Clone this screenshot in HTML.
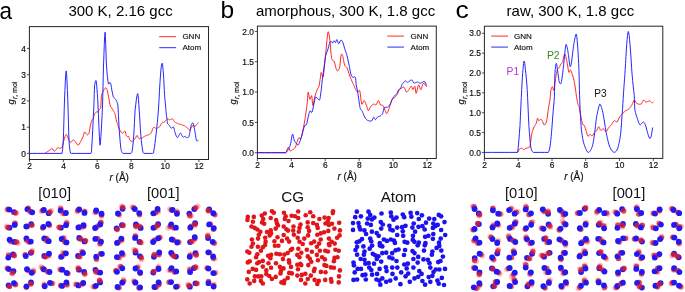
<!DOCTYPE html><html><head><meta charset="utf-8"><style>html,body{margin:0;padding:0;background:#fff;}body{width:685px;height:292px;overflow:hidden;}svg{display:block;will-change:transform;}</style></head><body><svg width="685" height="292" viewBox="0 0 685 292" font-family='"Liberation Sans", sans-serif'>
<rect width="685" height="292" fill="#fff"/>
<text x="0" y="0" font-size="24.5" transform="translate(-0.4,18.6) scale(0.92,1)">a</text>
<text x="220.4" y="18.4" font-size="24.5">b</text>
<text x="455.5" y="18.6" font-size="25" transform="translate(455.5,0) scale(1.06,0.97) translate(-455.5,0)">c</text>
<text x="68.4" y="15.7" font-size="15">300 K, 2.16 gcc</text>
<text x="255.9" y="15.7" font-size="15">amorphous, 300 K, 1.8 gcc</text>
<text x="506.6" y="15.7" font-size="15">raw, 300 K, 1.8 gcc</text>
<rect x="29.4" y="26.6" width="179.1" height="132.9" fill="none" stroke="#262626" stroke-width="1"/>
<line x1="29.4" y1="159.5" x2="29.4" y2="162.1" stroke="#262626" stroke-width="0.8"/>
<text x="29.6" y="168.9" font-size="8.4" text-anchor="middle" fill="#111" stroke="#111" stroke-width="0.18">2</text>
<line x1="63.3" y1="159.5" x2="63.3" y2="162.1" stroke="#262626" stroke-width="0.8"/>
<text x="63.5" y="168.9" font-size="8.4" text-anchor="middle" fill="#111" stroke="#111" stroke-width="0.18">4</text>
<line x1="97.2" y1="159.5" x2="97.2" y2="162.1" stroke="#262626" stroke-width="0.8"/>
<text x="97.4" y="168.9" font-size="8.4" text-anchor="middle" fill="#111" stroke="#111" stroke-width="0.18">6</text>
<line x1="131.1" y1="159.5" x2="131.1" y2="162.1" stroke="#262626" stroke-width="0.8"/>
<text x="131.3" y="168.9" font-size="8.4" text-anchor="middle" fill="#111" stroke="#111" stroke-width="0.18">8</text>
<line x1="165.0" y1="159.5" x2="165.0" y2="162.1" stroke="#262626" stroke-width="0.8"/>
<text x="165.2" y="168.9" font-size="8.4" text-anchor="middle" fill="#111" stroke="#111" stroke-width="0.18">10</text>
<line x1="198.9" y1="159.5" x2="198.9" y2="162.1" stroke="#262626" stroke-width="0.8"/>
<text x="199.1" y="168.9" font-size="8.4" text-anchor="middle" fill="#111" stroke="#111" stroke-width="0.18">12</text>
<line x1="26.8" y1="153.4" x2="29.4" y2="153.4" stroke="#262626" stroke-width="0.8"/>
<text x="26.0" y="156.5" font-size="8.4" text-anchor="end" fill="#111" stroke="#111" stroke-width="0.18">0</text>
<line x1="26.8" y1="127.2" x2="29.4" y2="127.2" stroke="#262626" stroke-width="0.8"/>
<text x="26.0" y="130.2" font-size="8.4" text-anchor="end" fill="#111" stroke="#111" stroke-width="0.18">1</text>
<line x1="26.8" y1="100.9" x2="29.4" y2="100.9" stroke="#262626" stroke-width="0.8"/>
<text x="26.0" y="104.0" font-size="8.4" text-anchor="end" fill="#111" stroke="#111" stroke-width="0.18">2</text>
<line x1="26.8" y1="74.7" x2="29.4" y2="74.7" stroke="#262626" stroke-width="0.8"/>
<text x="26.0" y="77.8" font-size="8.4" text-anchor="end" fill="#111" stroke="#111" stroke-width="0.18">3</text>
<line x1="26.8" y1="48.4" x2="29.4" y2="48.4" stroke="#262626" stroke-width="0.8"/>
<text x="26.0" y="51.5" font-size="8.4" text-anchor="end" fill="#111" stroke="#111" stroke-width="0.18">4</text>
<text x="119.2" y="181.0" font-size="10" text-anchor="middle" fill="#111" stroke="#111" stroke-width="0.18"><tspan font-style="italic">r</tspan> (Å)</text>
<text transform="translate(14.2,93) rotate(-90)" font-size="9.5" text-anchor="middle" fill="#111" stroke="#111" stroke-width="0.18"><tspan font-style="italic">g</tspan><tspan font-size="7" dy="3"><tspan font-style="italic">r</tspan>, mol</tspan></text>
<rect x="257.4" y="26.1" width="178.9" height="132.4" fill="none" stroke="#262626" stroke-width="1"/>
<line x1="257.4" y1="158.5" x2="257.4" y2="161.1" stroke="#262626" stroke-width="0.8"/>
<text x="257.6" y="168.0" font-size="8.4" text-anchor="middle" fill="#111" stroke="#111" stroke-width="0.18">2</text>
<line x1="291.3" y1="158.5" x2="291.3" y2="161.1" stroke="#262626" stroke-width="0.8"/>
<text x="291.5" y="168.0" font-size="8.4" text-anchor="middle" fill="#111" stroke="#111" stroke-width="0.18">4</text>
<line x1="325.2" y1="158.5" x2="325.2" y2="161.1" stroke="#262626" stroke-width="0.8"/>
<text x="325.4" y="168.0" font-size="8.4" text-anchor="middle" fill="#111" stroke="#111" stroke-width="0.18">6</text>
<line x1="359.2" y1="158.5" x2="359.2" y2="161.1" stroke="#262626" stroke-width="0.8"/>
<text x="359.4" y="168.0" font-size="8.4" text-anchor="middle" fill="#111" stroke="#111" stroke-width="0.18">8</text>
<line x1="393.1" y1="158.5" x2="393.1" y2="161.1" stroke="#262626" stroke-width="0.8"/>
<text x="393.3" y="168.0" font-size="8.4" text-anchor="middle" fill="#111" stroke="#111" stroke-width="0.18">10</text>
<line x1="427.0" y1="158.5" x2="427.0" y2="161.1" stroke="#262626" stroke-width="0.8"/>
<text x="427.2" y="168.0" font-size="8.4" text-anchor="middle" fill="#111" stroke="#111" stroke-width="0.18">12</text>
<line x1="254.8" y1="152.7" x2="257.4" y2="152.7" stroke="#262626" stroke-width="0.8"/>
<text x="254.0" y="155.8" font-size="8.4" text-anchor="end" fill="#111" stroke="#111" stroke-width="0.18">0.0</text>
<line x1="254.8" y1="122.4" x2="257.4" y2="122.4" stroke="#262626" stroke-width="0.8"/>
<text x="254.0" y="125.5" font-size="8.4" text-anchor="end" fill="#111" stroke="#111" stroke-width="0.18">0.5</text>
<line x1="254.8" y1="92.0" x2="257.4" y2="92.0" stroke="#262626" stroke-width="0.8"/>
<text x="254.0" y="95.1" font-size="8.4" text-anchor="end" fill="#111" stroke="#111" stroke-width="0.18">1.0</text>
<line x1="254.8" y1="61.7" x2="257.4" y2="61.7" stroke="#262626" stroke-width="0.8"/>
<text x="254.0" y="64.8" font-size="8.4" text-anchor="end" fill="#111" stroke="#111" stroke-width="0.18">1.5</text>
<line x1="254.8" y1="31.4" x2="257.4" y2="31.4" stroke="#262626" stroke-width="0.8"/>
<text x="254.0" y="34.5" font-size="8.4" text-anchor="end" fill="#111" stroke="#111" stroke-width="0.18">2.0</text>
<text x="347.2" y="180.4" font-size="10" text-anchor="middle" fill="#111" stroke="#111" stroke-width="0.18"><tspan font-style="italic">r</tspan> (Å)</text>
<text transform="translate(235.5,93) rotate(-90)" font-size="9.5" text-anchor="middle" fill="#111" stroke="#111" stroke-width="0.18"><tspan font-style="italic">g</tspan><tspan font-size="7" dy="3"><tspan font-style="italic">r</tspan>, mol</tspan></text>
<rect x="484.4" y="26.2" width="178.4" height="132.2" fill="none" stroke="#262626" stroke-width="1"/>
<line x1="484.4" y1="158.4" x2="484.4" y2="161.0" stroke="#262626" stroke-width="0.8"/>
<text x="484.6" y="168.0" font-size="8.4" text-anchor="middle" fill="#111" stroke="#111" stroke-width="0.18">2</text>
<line x1="518.2" y1="158.4" x2="518.2" y2="161.0" stroke="#262626" stroke-width="0.8"/>
<text x="518.4" y="168.0" font-size="8.4" text-anchor="middle" fill="#111" stroke="#111" stroke-width="0.18">4</text>
<line x1="552.0" y1="158.4" x2="552.0" y2="161.0" stroke="#262626" stroke-width="0.8"/>
<text x="552.2" y="168.0" font-size="8.4" text-anchor="middle" fill="#111" stroke="#111" stroke-width="0.18">6</text>
<line x1="585.7" y1="158.4" x2="585.7" y2="161.0" stroke="#262626" stroke-width="0.8"/>
<text x="585.9" y="168.0" font-size="8.4" text-anchor="middle" fill="#111" stroke="#111" stroke-width="0.18">8</text>
<line x1="619.5" y1="158.4" x2="619.5" y2="161.0" stroke="#262626" stroke-width="0.8"/>
<text x="619.7" y="168.0" font-size="8.4" text-anchor="middle" fill="#111" stroke="#111" stroke-width="0.18">10</text>
<line x1="653.3" y1="158.4" x2="653.3" y2="161.0" stroke="#262626" stroke-width="0.8"/>
<text x="653.5" y="168.0" font-size="8.4" text-anchor="middle" fill="#111" stroke="#111" stroke-width="0.18">12</text>
<line x1="481.8" y1="152.4" x2="484.4" y2="152.4" stroke="#262626" stroke-width="0.8"/>
<text x="481.0" y="155.5" font-size="8.4" text-anchor="end" fill="#111" stroke="#111" stroke-width="0.18">0.0</text>
<line x1="481.8" y1="132.6" x2="484.4" y2="132.6" stroke="#262626" stroke-width="0.8"/>
<text x="481.0" y="135.7" font-size="8.4" text-anchor="end" fill="#111" stroke="#111" stroke-width="0.18">0.5</text>
<line x1="481.8" y1="112.7" x2="484.4" y2="112.7" stroke="#262626" stroke-width="0.8"/>
<text x="481.0" y="115.8" font-size="8.4" text-anchor="end" fill="#111" stroke="#111" stroke-width="0.18">1.0</text>
<line x1="481.8" y1="92.8" x2="484.4" y2="92.8" stroke="#262626" stroke-width="0.8"/>
<text x="481.0" y="95.9" font-size="8.4" text-anchor="end" fill="#111" stroke="#111" stroke-width="0.18">1.5</text>
<line x1="481.8" y1="73.0" x2="484.4" y2="73.0" stroke="#262626" stroke-width="0.8"/>
<text x="481.0" y="76.1" font-size="8.4" text-anchor="end" fill="#111" stroke="#111" stroke-width="0.18">2.0</text>
<line x1="481.8" y1="53.2" x2="484.4" y2="53.2" stroke="#262626" stroke-width="0.8"/>
<text x="481.0" y="56.3" font-size="8.4" text-anchor="end" fill="#111" stroke="#111" stroke-width="0.18">2.5</text>
<line x1="481.8" y1="33.3" x2="484.4" y2="33.3" stroke="#262626" stroke-width="0.8"/>
<text x="481.0" y="36.4" font-size="8.4" text-anchor="end" fill="#111" stroke="#111" stroke-width="0.18">3.0</text>
<text x="573.9" y="180.4" font-size="10" text-anchor="middle" fill="#111" stroke="#111" stroke-width="0.18"><tspan font-style="italic">r</tspan> (Å)</text>
<text transform="translate(464.3,93) rotate(-90)" font-size="9.5" text-anchor="middle" fill="#111" stroke="#111" stroke-width="0.18"><tspan font-style="italic">g</tspan><tspan font-size="7" dy="3"><tspan font-style="italic">r</tspan>, mol</tspan></text>
<polyline points="44.60,153.40 45.50,152.99 46.40,152.41 47.30,151.77 48.20,151.20 48.80,150.72 49.40,150.26 50.00,149.84 50.60,149.50 51.08,149.18 51.55,148.89 52.02,148.73 52.50,148.80 52.92,149.27 53.35,150.03 53.78,150.78 54.20,151.20 54.62,151.18 55.05,150.90 55.48,150.47 55.90,150.00 56.38,149.41 56.85,148.68 57.32,148.01 57.80,147.60 58.27,147.60 58.75,147.88 59.23,148.19 59.70,148.30 60.30,148.26 60.90,148.16 61.50,147.83 62.10,147.10 62.52,145.80 62.95,144.05 63.38,142.15 63.80,140.40 64.40,138.63 65.00,136.76 65.60,135.21 66.20,134.40 66.67,134.61 67.15,135.56 67.62,136.83 68.10,138.00 68.65,139.18 69.20,140.53 69.75,141.68 70.30,142.30 71.08,142.06 71.85,141.22 72.62,140.32 73.40,139.90 74.00,140.15 74.60,140.77 75.20,141.55 75.80,142.30 76.40,143.14 77.00,144.12 77.60,144.92 78.20,145.20 78.80,144.79 79.40,143.88 80.00,142.74 80.60,141.60 81.20,140.48 81.80,139.27 82.40,138.03 83.00,136.80 83.42,135.44 83.85,133.97 84.28,132.71 84.70,132.00 85.12,132.07 85.55,132.71 85.98,133.51 86.40,134.10 86.73,134.44 87.05,134.71 87.38,134.85 87.70,134.80 88.05,134.60 88.40,134.26 88.75,133.67 89.10,132.70 89.45,131.14 89.80,129.12 90.15,127.01 90.50,125.20 90.83,123.75 91.15,122.46 91.47,121.35 91.80,120.40 92.15,119.73 92.50,119.31 92.85,118.90 93.20,118.30 93.55,117.37 93.90,116.24 94.25,115.12 94.60,114.20 94.95,113.52 95.30,112.99 95.65,112.56 96.00,112.20 96.50,111.97 97.00,111.86 97.50,111.74 98.00,111.50 98.35,111.07 98.70,110.53 99.05,109.95 99.40,109.40 99.75,109.12 100.10,109.01 100.45,108.59 100.80,107.40 100.95,104.95 101.10,101.63 101.25,98.21 101.40,95.50 101.93,93.75 102.45,92.53 102.97,91.59 103.50,90.70 104.00,89.76 104.50,88.91 105.00,88.26 105.50,87.90 105.85,87.81 106.20,87.96 106.55,88.42 106.90,89.30 107.33,90.71 107.75,92.56 108.17,94.66 108.60,96.80 109.02,99.15 109.45,101.74 109.88,104.17 110.30,106.00 110.65,106.97 111.00,107.36 111.35,107.56 111.70,108.00 112.22,108.79 112.75,109.71 113.28,110.65 113.80,111.50 114.12,112.13 114.45,112.64 114.77,113.25 115.10,114.20 115.45,115.71 115.80,117.61 116.15,119.52 116.50,121.10 116.85,122.16 117.20,122.93 117.55,123.63 117.90,124.50 118.23,125.70 118.55,127.08 118.88,128.36 119.20,129.30 119.40,129.70 119.60,129.73 119.80,129.70 120.00,129.90 120.35,130.47 120.70,131.24 121.05,132.02 121.40,132.60 121.73,132.97 122.05,133.22 122.38,133.33 122.70,133.30 123.05,133.03 123.40,132.57 123.75,132.07 124.10,131.70 124.38,131.41 124.65,131.14 124.92,131.06 125.20,131.30 125.45,132.07 125.70,133.24 125.95,134.47 126.20,135.40 126.53,135.97 126.85,136.34 127.17,136.57 127.50,136.70 127.75,136.59 128.00,136.27 128.25,136.01 128.50,136.10 128.78,136.71 129.05,137.65 129.32,138.67 129.60,139.50 129.95,140.11 130.30,140.64 130.65,141.04 131.00,141.30 131.50,141.38 132.00,141.30 132.50,141.12 133.00,140.90 133.35,140.64 133.70,140.31 134.05,139.92 134.40,139.50 134.75,139.02 135.10,138.49 135.45,137.93 135.80,137.40 136.12,136.80 136.45,136.14 136.78,135.62 137.10,135.40 137.35,135.63 137.60,136.19 137.85,136.85 138.10,137.40 138.38,137.84 138.65,138.27 138.92,138.61 139.20,138.80 139.55,138.76 139.90,138.54 140.25,138.28 140.60,138.10 140.93,138.07 141.25,138.11 141.57,138.15 141.90,138.10 142.25,137.94 142.60,137.72 142.95,137.46 143.30,137.20 143.73,136.93 144.15,136.64 144.57,136.35 145.00,136.10 145.43,135.90 145.85,135.72 146.27,135.57 146.70,135.40 147.22,135.22 147.75,135.05 148.28,134.87 148.80,134.70 149.15,134.56 149.50,134.44 149.85,134.27 150.20,134.00 150.55,133.60 150.90,133.12 151.25,132.55 151.60,131.90 151.93,131.09 152.25,130.16 152.57,129.24 152.90,128.50 153.25,127.94 153.60,127.50 153.95,127.21 154.30,127.10 154.70,127.30 155.10,127.76 155.50,128.23 155.90,128.50 156.35,128.49 156.80,128.32 157.25,128.07 157.70,127.80 158.22,127.56 158.75,127.29 159.28,126.96 159.80,126.50 160.20,125.83 160.60,125.01 161.00,124.18 161.40,123.50 161.72,123.00 162.05,122.59 162.38,122.29 162.70,122.10 163.05,122.12 163.40,122.32 163.75,122.51 164.10,122.50 164.45,122.22 164.80,121.76 165.15,121.25 165.50,120.80 165.82,120.40 166.15,120.01 166.48,119.67 166.80,119.40 167.15,119.22 167.50,119.12 167.85,119.08 168.20,119.10 168.55,119.23 168.90,119.46 169.25,119.68 169.60,119.80 169.95,119.78 170.30,119.69 170.65,119.55 171.00,119.40 171.32,119.20 171.65,118.94 171.98,118.73 172.30,118.70 172.58,118.89 172.85,119.23 173.12,119.66 173.40,120.10 173.75,120.59 174.10,121.14 174.45,121.68 174.80,122.10 175.20,122.37 175.60,122.53 176.00,122.66 176.40,122.80 176.75,122.97 177.10,123.15 177.45,123.33 177.80,123.50 178.15,123.69 178.50,123.89 178.85,124.07 179.20,124.20 179.52,124.23 179.85,124.20 180.18,124.17 180.50,124.20 180.85,124.33 181.20,124.53 181.55,124.73 181.90,124.90 182.25,125.02 182.60,125.11 182.95,125.20 183.30,125.30 183.65,125.40 184.00,125.51 184.35,125.63 184.70,125.80 185.02,126.03 185.35,126.31 185.68,126.61 186.00,126.90 186.35,127.18 186.70,127.46 187.05,127.73 187.40,128.00 187.68,128.25 187.95,128.49 188.22,128.73 188.50,129.00 188.75,129.36 189.00,129.79 189.25,130.15 189.50,130.30 189.72,130.16 189.95,129.82 190.18,129.39 190.40,129.00 190.68,128.67 190.95,128.35 191.22,128.00 191.50,127.60 191.78,127.09 192.05,126.50 192.32,125.94 192.60,125.50 192.85,125.18 193.10,124.94 193.35,124.83 193.60,124.90 193.82,125.29 194.05,125.93 194.28,126.56 194.50,126.90 194.78,126.85 195.05,126.58 195.32,126.18 195.60,125.80 195.95,125.44 196.30,125.04 196.65,124.62 197.00,124.20 197.40,123.74 197.80,123.25 198.20,122.81 198.60,122.50" fill="none" stroke="#ff1a1a" stroke-width="0.95" stroke-linejoin="round"/>
<polyline points="29.50,153.40 37.62,153.40 45.75,153.40 53.88,153.40 62.00,153.40 62.33,151.62 62.65,149.20 62.97,145.53 63.30,140.00 63.60,131.61 63.90,120.98 64.20,109.86 64.50,100.00 64.92,90.59 65.35,81.13 65.78,73.83 66.20,70.90 66.60,73.83 67.00,81.13 67.40,90.59 67.80,100.00 68.10,109.89 68.40,121.07 68.70,131.71 69.00,140.00 69.33,145.22 69.65,148.41 69.97,150.40 70.30,152.00 70.60,153.13 70.90,153.40 71.20,153.40 71.50,153.40 76.38,153.40 81.25,153.40 86.12,153.40 91.00,153.40 91.20,152.83 91.40,152.20 91.60,150.32 91.80,146.00 92.33,137.83 92.85,126.79 93.38,115.36 93.90,106.00 94.08,99.22 94.25,93.77 94.42,89.40 94.60,85.90 95.00,83.16 95.40,81.31 95.80,80.48 96.20,80.80 96.47,82.71 96.75,85.99 97.03,89.84 97.30,93.40 97.47,95.98 97.65,98.18 97.83,101.13 98.00,106.00 98.45,114.53 98.90,125.63 99.35,136.17 99.80,143.00 100.05,145.22 100.30,144.53 100.55,141.70 100.80,137.50 101.22,131.65 101.65,123.91 102.08,115.08 102.50,106.00 102.75,96.45 103.00,86.14 103.25,75.76 103.50,66.00 103.90,55.53 104.30,44.49 104.70,35.75 105.10,32.20 105.45,36.29 105.80,45.92 106.15,57.14 106.50,66.00 106.95,71.87 107.40,76.71 107.85,80.47 108.30,83.10 108.65,84.13 109.00,83.73 109.35,82.84 109.70,82.40 109.97,82.51 110.25,82.71 110.53,83.11 110.80,83.80 111.03,84.86 111.25,86.21 111.47,87.74 111.70,89.30 112.05,91.02 112.40,92.91 112.75,94.70 113.10,96.10 113.45,96.96 113.80,97.45 114.15,97.79 114.50,98.20 114.92,98.69 115.35,99.16 115.78,99.65 116.20,100.20 116.45,100.84 116.70,101.54 116.95,102.27 117.20,103.00 117.38,103.33 117.55,103.39 117.73,104.01 117.90,106.00 118.18,109.92 118.45,115.22 118.72,121.04 119.00,126.50 119.40,131.77 119.80,137.19 120.20,142.13 120.60,146.00 120.85,148.44 121.10,149.85 121.35,150.71 121.60,151.50 121.95,152.27 122.30,152.79 122.65,153.14 123.00,153.40 125.00,153.40 127.00,153.40 129.00,153.40 131.00,153.40 131.32,153.06 131.65,152.64 131.98,151.75 132.30,150.00 132.68,147.30 133.05,143.85 133.43,139.72 133.80,135.00 134.12,129.25 134.45,122.59 134.78,115.88 135.10,110.00 135.75,104.53 136.40,99.21 137.05,95.19 137.70,93.60 138.07,95.19 138.45,99.21 138.82,104.53 139.20,110.00 139.60,115.88 140.00,122.59 140.40,129.25 140.80,135.00 141.25,139.73 141.70,143.85 142.15,147.30 142.60,150.00 142.90,151.75 143.20,152.64 143.50,153.06 143.80,153.40 145.98,153.40 148.15,153.40 150.32,153.40 152.50,153.40 152.82,153.33 153.15,153.33 153.48,152.75 153.80,151.00 154.40,147.71 155.00,143.29 155.60,138.22 156.20,133.00 156.75,127.88 157.30,122.56 157.85,116.71 158.40,110.00 158.93,101.55 159.45,91.80 159.97,82.40 160.50,75.00 160.93,69.87 161.35,66.18 161.77,63.95 162.20,63.20 162.52,64.30 162.85,67.13 163.18,70.93 163.50,75.00 163.78,79.61 164.05,85.00 164.32,90.34 164.60,94.80 164.82,98.07 165.05,100.62 165.28,102.82 165.50,105.00 165.68,107.24 165.85,109.35 166.02,111.34 166.20,113.20 166.42,114.94 166.65,116.56 166.88,118.04 167.10,119.40 167.20,120.64 167.30,121.75 167.40,122.71 167.50,123.50 167.85,124.03 168.20,124.33 168.55,124.57 168.90,124.90 169.25,125.37 169.60,125.90 169.95,126.43 170.30,126.90 170.62,127.35 170.95,127.79 171.28,128.14 171.60,128.30 171.85,128.17 172.10,127.84 172.35,127.46 172.60,127.20 172.88,127.02 173.15,126.85 173.42,126.86 173.70,127.20 173.97,128.02 174.25,129.19 174.53,130.50 174.80,131.70 175.15,132.81 175.50,133.92 175.85,134.95 176.20,135.80 176.52,136.51 176.85,137.09 177.18,137.49 177.50,137.60 177.85,137.33 178.20,136.76 178.55,136.05 178.90,135.40 179.25,134.76 179.60,134.07 179.95,133.47 180.30,133.10 180.53,133.02 180.75,133.16 180.97,133.44 181.20,133.80 181.45,134.31 181.70,134.98 181.95,135.66 182.20,136.20 182.47,136.59 182.75,136.89 183.03,137.10 183.30,137.20 183.65,137.11 184.00,136.87 184.35,136.62 184.70,136.50 185.02,136.58 185.35,136.78 185.68,137.01 186.00,137.20 186.35,137.35 186.70,137.49 187.05,137.59 187.40,137.60 187.75,137.57 188.10,137.50 188.45,137.28 188.80,136.80 189.08,135.98 189.35,134.89 189.62,133.66 189.90,132.40 190.12,131.04 190.35,129.56 190.58,128.12 190.80,126.90 191.05,125.93 191.30,125.13 191.55,124.46 191.80,123.90 192.08,123.42 192.35,123.03 192.62,122.81 192.90,122.80 193.07,123.09 193.25,123.61 193.43,124.26 193.60,124.90 193.75,125.45 193.90,125.99 194.05,126.66 194.20,127.60 194.47,128.91 194.75,130.49 195.03,132.18 195.30,133.80 195.55,135.45 195.80,137.18 196.05,138.74 196.30,139.90 196.48,140.55 196.65,140.82 196.82,140.88 197.00,140.90 197.35,140.85 197.70,140.66 198.05,140.45 198.40,140.30" fill="none" stroke="#1a1aff" stroke-width="0.95" stroke-linejoin="round"/>
<polyline points="257.50,152.70 264.57,152.70 271.65,152.70 278.73,152.70 285.80,152.70 286.40,151.52 287.00,149.78 287.60,148.14 288.20,147.30 288.68,147.68 289.15,148.84 289.62,150.13 290.10,150.90 290.70,150.97 291.30,150.67 291.90,150.20 292.50,149.70 293.23,149.27 293.95,148.80 294.67,148.18 295.40,147.30 295.88,146.00 296.35,144.38 296.82,142.72 297.30,141.30 297.73,140.12 298.15,139.05 298.57,138.21 299.00,137.70 299.43,137.86 299.85,138.52 300.27,139.08 300.70,138.90 301.18,137.75 301.65,135.97 302.12,133.87 302.60,131.70 303.08,129.50 303.55,127.12 304.02,124.64 304.50,122.10 304.93,119.46 305.35,116.70 305.77,113.94 306.20,111.30 306.50,108.82 306.80,106.42 307.10,104.07 307.40,101.70 307.57,98.91 307.75,95.85 307.93,93.32 308.10,92.10 308.53,92.97 308.95,95.33 309.38,97.87 309.80,99.30 310.27,98.85 310.75,97.35 311.23,95.92 311.70,95.70 311.98,97.59 312.25,100.79 312.52,103.84 312.80,105.30 313.27,104.47 313.75,102.23 314.23,99.48 314.70,97.10 315.25,95.22 315.80,93.39 316.35,91.70 316.90,90.20 317.45,89.08 318.00,88.24 318.55,87.36 319.10,86.10 319.43,84.23 319.75,81.98 320.07,79.68 320.40,77.70 320.60,75.92 320.80,74.22 321.00,72.94 321.20,72.40 321.65,73.25 322.10,75.12 322.55,76.86 323.00,77.30 323.30,76.12 323.60,73.93 323.90,71.03 324.20,67.70 324.68,63.76 325.15,59.15 325.62,54.31 326.10,49.70 326.53,44.99 326.95,40.10 327.38,35.81 327.80,32.90 328.10,31.74 328.40,31.85 328.70,32.79 329.00,34.10 329.30,35.83 329.60,38.15 329.90,40.85 330.20,43.70 330.50,46.97 330.80,50.68 331.10,54.19 331.40,56.90 331.70,58.53 332.00,59.45 332.30,59.99 332.60,60.50 333.03,60.83 333.45,60.88 333.88,61.03 334.30,61.70 334.77,63.20 335.25,65.26 335.73,67.33 336.20,68.90 336.68,69.89 337.15,70.57 337.62,70.89 338.10,70.80 338.53,70.31 338.95,69.44 339.38,68.18 339.80,66.50 340.10,64.03 340.40,60.91 340.70,57.88 341.00,55.70 341.30,54.58 341.60,54.12 341.90,54.15 342.20,54.50 342.50,55.25 342.80,56.45 343.10,57.88 343.40,59.30 343.70,60.80 344.00,62.45 344.30,64.03 344.60,65.30 345.20,66.04 345.80,66.42 346.40,66.85 347.00,67.70 347.60,69.19 348.20,71.08 348.80,73.07 349.40,74.90 350.00,76.51 350.60,78.05 351.20,79.51 351.80,80.90 352.40,82.23 353.00,83.50 353.60,84.67 354.20,85.70 354.40,86.52 354.60,87.17 354.80,87.79 355.00,88.50 355.60,89.46 356.20,90.55 356.80,91.52 357.40,92.10 358.00,91.80 358.60,90.90 359.20,90.30 359.80,90.90 360.27,93.58 360.75,97.65 361.23,101.64 361.70,104.10 362.30,104.18 362.90,102.83 363.50,101.20 364.10,100.50 364.70,101.10 365.30,102.35 365.90,103.88 366.50,105.30 366.93,106.79 367.35,108.45 367.77,109.84 368.20,110.50 368.80,110.11 369.40,108.97 370.00,107.60 370.60,106.50 371.38,105.71 372.15,105.01 372.93,104.44 373.70,104.10 374.30,104.17 374.90,104.57 375.50,104.90 376.10,104.80 376.70,103.88 377.30,102.42 377.90,101.09 378.50,100.50 378.93,101.06 379.35,102.35 379.77,103.79 380.20,104.80 380.80,105.12 381.40,105.10 382.00,105.05 382.60,105.30 383.08,105.93 383.55,106.78 384.02,107.76 384.50,108.80 385.02,110.11 385.55,111.64 386.08,112.96 386.60,113.60 387.10,113.34 387.60,112.47 388.10,111.26 388.60,110.00 389.08,108.66 389.55,107.12 390.02,105.55 390.50,104.10 390.93,102.75 391.35,101.44 391.77,100.26 392.20,99.30 392.80,98.69 393.40,98.34 394.00,98.05 394.60,97.60 395.20,96.96 395.80,96.24 396.40,95.43 397.00,94.50 397.60,93.35 398.20,92.01 398.80,90.72 399.40,89.70 400.00,89.03 400.60,88.59 401.20,88.28 401.80,88.00 402.38,87.63 402.95,87.24 403.53,87.06 404.10,87.30 404.70,88.28 405.30,89.81 405.90,91.28 406.50,92.10 407.10,92.03 407.70,91.43 408.30,90.55 408.90,89.70 409.50,88.72 410.10,87.53 410.70,86.52 411.30,86.10 411.73,86.66 412.15,87.90 412.57,89.14 413.00,89.70 413.48,89.05 413.95,87.68 414.42,86.41 414.90,86.10 415.20,87.51 415.50,90.00 415.80,92.34 416.10,93.30 416.70,91.99 417.30,89.25 417.90,86.44 418.50,84.90 419.10,85.44 419.70,87.18 420.30,88.99 420.90,89.70 421.50,88.66 422.10,86.60 422.70,84.46 423.30,83.20 423.90,83.21 424.50,83.94 425.10,84.90 425.70,85.60 426.02,85.95 426.35,86.20 426.68,86.37 427.00,86.50" fill="none" stroke="#ff1a1a" stroke-width="0.95" stroke-linejoin="round"/>
<polyline points="257.50,152.70 264.57,152.70 271.65,152.70 278.73,152.70 285.80,152.70 286.57,151.96 287.35,150.90 288.12,149.69 288.90,148.50 289.32,147.45 289.75,146.44 290.18,145.25 290.60,143.70 291.08,141.27 291.55,138.22 292.02,135.52 292.50,134.10 292.93,134.57 293.35,136.31 293.77,138.44 294.20,140.10 294.68,141.11 295.15,141.92 295.62,142.59 296.10,143.20 296.65,143.82 297.20,144.41 297.75,144.81 298.30,144.90 298.60,144.65 298.90,144.13 299.20,143.35 299.50,142.30 300.07,140.96 300.65,139.34 301.23,137.50 301.80,135.50 302.50,133.10 303.20,130.36 303.90,127.79 304.60,125.90 305.08,125.17 305.55,125.20 306.02,125.23 306.50,124.50 307.05,122.55 307.60,119.87 308.15,117.11 308.70,114.90 309.05,113.36 309.40,112.16 309.75,111.31 310.10,110.80 310.58,111.02 311.05,111.84 311.52,112.49 312.00,112.20 312.55,110.48 313.10,107.83 313.65,104.97 314.20,102.60 314.52,100.78 314.85,99.16 315.18,97.89 315.50,97.10 316.00,96.97 316.50,97.38 317.00,98.00 317.50,98.50 318.05,99.05 318.60,99.75 319.15,100.15 319.70,99.80 320.02,98.51 320.35,96.55 320.68,94.16 321.00,91.60 321.35,88.75 321.70,85.54 322.05,82.28 322.40,79.30 322.75,76.79 323.10,74.53 323.45,72.26 323.80,69.70 324.20,66.59 324.60,63.15 325.00,59.78 325.40,56.90 326.00,54.68 326.60,52.88 327.20,51.28 327.80,49.70 328.23,48.03 328.65,46.40 329.07,44.92 329.50,43.70 329.85,42.75 330.20,42.02 330.55,41.53 330.90,41.30 331.32,41.53 331.75,42.14 332.18,42.75 332.60,43.00 332.90,42.63 333.20,41.90 333.50,41.17 333.80,40.80 334.23,41.06 334.65,41.69 335.07,42.31 335.50,42.50 335.85,41.93 336.20,40.90 336.55,39.94 336.90,39.60 337.32,40.31 337.75,41.69 338.18,43.05 338.60,43.70 339.20,43.20 339.80,42.01 340.40,40.76 341.00,40.10 341.48,40.19 341.95,40.70 342.42,41.51 342.90,42.50 343.32,43.72 343.75,45.20 344.18,46.83 344.60,48.50 345.20,50.13 345.80,51.80 346.40,53.62 347.00,55.70 347.60,58.20 348.20,61.03 348.80,63.88 349.40,66.50 349.82,68.91 350.25,71.23 350.68,73.28 351.10,74.90 351.58,75.98 352.05,76.63 352.52,77.01 353.00,77.30 353.60,77.29 354.20,76.97 354.80,76.82 355.40,77.30 355.60,78.65 355.80,80.58 356.00,82.77 356.20,84.90 356.62,86.92 357.05,88.98 357.47,91.10 357.90,93.30 358.25,95.70 358.60,98.26 358.95,100.73 359.30,102.90 359.55,104.72 359.80,106.30 360.05,107.66 360.30,108.80 360.77,109.59 361.25,110.07 361.73,110.51 362.20,111.20 362.68,112.26 363.15,113.53 363.62,114.83 364.10,116.00 364.70,117.04 365.30,118.02 365.90,118.90 366.50,119.60 367.10,120.10 367.70,120.43 368.30,120.64 368.90,120.80 369.62,120.97 370.35,121.10 371.07,121.08 371.80,120.80 372.27,120.01 372.75,118.85 373.23,117.76 373.70,117.20 374.12,117.50 374.55,118.35 374.97,119.23 375.40,119.60 376.00,119.22 376.60,118.40 377.20,117.48 377.80,116.80 378.40,116.50 379.00,116.37 379.60,116.27 380.20,116.00 380.80,115.59 381.40,115.12 382.00,114.48 382.60,113.60 383.00,112.24 383.40,110.53 383.80,108.88 384.20,107.70 385.00,107.24 385.80,107.23 386.60,107.33 387.40,107.20 388.00,106.81 388.60,106.31 389.20,105.66 389.80,104.80 390.40,103.60 391.00,102.12 391.60,100.61 392.20,99.30 392.80,98.24 393.40,97.31 394.00,96.47 394.60,95.70 395.20,95.04 395.80,94.50 396.40,93.96 397.00,93.30 397.40,92.43 397.80,91.42 398.20,90.46 398.60,89.70 399.10,89.29 399.60,89.10 400.10,88.91 400.60,88.50 400.90,87.74 401.20,86.77 401.50,85.77 401.80,84.90 402.27,84.20 402.75,83.58 403.23,83.02 403.70,82.50 404.10,81.95 404.50,81.39 404.90,80.97 405.30,80.80 405.90,81.07 406.50,81.65 407.10,82.23 407.70,82.50 408.20,82.29 408.70,81.80 409.20,81.23 409.70,80.80 410.30,80.47 410.90,80.16 411.50,80.00 412.10,80.10 412.50,80.65 412.90,81.54 413.30,82.43 413.70,83.00 414.30,83.11 414.90,82.96 415.50,82.70 416.10,82.50 416.53,82.34 416.95,82.14 417.38,82.01 417.80,82.00 418.27,82.23 418.75,82.61 419.23,82.99 419.70,83.20 420.30,83.17 420.90,83.00 421.50,82.75 422.10,82.50 422.70,82.12 423.30,81.63 423.90,81.27 424.50,81.30 424.98,81.94 425.45,83.01 425.92,84.12 426.40,84.90 426.55,85.21 426.70,85.28 426.85,85.22 427.00,85.20" fill="none" stroke="#1a1aff" stroke-width="0.95" stroke-linejoin="round"/>
<polyline points="517.60,152.40 518.08,151.73 518.55,150.74 519.02,149.74 519.50,149.00 520.10,148.59 520.70,148.36 521.30,148.28 521.90,148.30 522.33,148.52 522.75,148.93 523.17,149.32 523.60,149.50 524.20,149.36 524.80,149.02 525.40,148.62 526.00,148.30 526.60,148.11 527.20,147.98 527.80,147.83 528.40,147.60 528.83,147.46 529.25,147.38 529.67,146.99 530.10,145.90 530.45,143.73 530.80,140.77 531.15,137.68 531.50,135.10 531.92,133.21 532.35,131.65 532.78,130.32 533.20,129.10 533.62,128.00 534.05,127.07 534.48,126.26 534.90,125.50 535.25,124.87 535.60,124.38 535.95,123.84 536.30,123.10 536.60,121.90 536.90,120.40 537.20,119.05 537.50,118.30 537.80,118.48 538.10,119.28 538.40,120.18 538.70,120.70 539.12,120.61 539.55,120.21 539.98,119.75 540.40,119.50 540.77,119.45 541.15,119.48 541.52,119.69 541.90,120.20 542.50,121.33 543.10,122.91 543.70,124.34 544.30,125.00 544.90,124.75 545.50,123.90 546.10,122.53 546.70,120.70 547.12,118.19 547.55,115.03 547.98,111.71 548.40,108.70 548.83,106.11 549.25,103.70 549.67,101.39 550.10,99.10 550.27,96.72 550.45,94.33 550.62,92.12 550.80,90.30 551.22,88.87 551.65,87.73 552.08,86.97 552.50,86.70 552.85,87.46 553.20,89.03 553.55,90.33 553.90,90.30 554.33,88.31 554.75,85.05 555.17,81.41 555.60,78.30 556.02,75.81 556.45,73.50 556.88,71.49 557.30,69.90 557.77,68.91 558.25,68.40 558.73,68.04 559.20,67.50 559.68,66.66 560.15,65.70 560.62,64.74 561.10,63.90 561.52,63.30 561.95,62.85 562.38,62.33 562.80,61.50 563.10,60.14 563.40,58.42 563.70,56.75 564.00,55.50 564.30,54.72 564.60,54.23 564.90,54.07 565.20,54.30 565.50,55.05 565.80,56.25 566.10,57.67 566.40,59.10 566.70,60.49 567.00,61.95 567.30,63.49 567.60,65.10 567.90,67.04 568.20,69.22 568.50,71.15 568.80,72.30 569.22,72.21 569.65,71.25 570.08,70.22 570.50,69.90 570.98,70.57 571.45,71.78 571.92,73.25 572.40,74.70 572.83,76.06 573.25,77.48 573.67,79.00 574.10,80.70 574.45,82.65 574.80,84.80 575.15,87.00 575.50,89.10 575.75,91.07 576.00,92.97 576.25,94.85 576.50,96.70 576.85,98.64 577.20,100.62 577.55,102.45 577.90,103.90 578.15,104.67 578.40,104.95 578.65,105.31 578.90,106.30 579.38,108.22 579.85,110.72 580.32,113.42 580.80,115.90 581.27,118.25 581.75,120.62 582.23,122.73 582.70,124.30 583.12,124.99 583.55,125.05 583.98,125.03 584.40,125.50 584.88,126.69 585.35,128.28 585.82,129.97 586.30,131.50 586.72,132.94 587.15,134.40 587.58,135.61 588.00,136.30 588.40,136.20 588.80,135.51 589.20,134.72 589.60,134.30 590.27,134.54 590.95,135.13 591.62,135.66 592.30,135.70 593.00,135.00 593.70,133.82 594.40,132.56 595.10,131.60 595.58,131.11 596.05,130.86 596.52,130.63 597.00,130.20 597.40,129.31 597.80,128.14 598.20,127.13 598.60,126.70 599.10,127.20 599.60,128.31 600.10,129.50 600.60,130.20 601.27,130.12 601.95,129.60 602.62,129.06 603.30,128.90 603.97,129.45 604.65,130.43 605.33,131.31 606.00,131.60 606.70,131.02 607.40,129.89 608.10,128.59 608.80,127.50 609.47,126.74 610.15,126.10 610.83,125.46 611.50,124.70 612.20,123.64 612.90,122.39 613.60,121.27 614.30,120.60 614.97,120.72 615.65,121.39 616.33,122.01 617.00,122.00 617.70,121.04 618.40,119.51 619.10,117.84 619.80,116.50 620.47,115.63 621.15,114.98 621.83,114.42 622.50,113.80 623.17,113.07 623.85,112.31 624.53,111.60 625.20,111.00 625.90,110.57 626.60,110.26 627.30,110.00 628.00,109.70 628.35,109.41 628.70,109.14 629.05,108.81 629.40,108.30 630.08,107.58 630.75,106.70 631.42,105.72 632.10,104.70 632.65,103.45 633.20,102.01 633.75,100.76 634.30,100.10 634.77,100.29 635.25,101.08 635.73,102.05 636.20,102.80 636.90,103.29 637.60,103.71 638.30,104.02 639.00,104.20 639.67,104.26 640.35,104.21 641.03,104.00 641.70,103.60 642.18,102.80 642.65,101.69 643.12,100.66 643.60,100.10 644.15,100.25 644.70,100.87 645.25,101.57 645.80,102.00 646.35,102.02 646.90,101.85 647.45,101.60 648.00,101.40 648.48,101.21 648.95,100.99 649.42,100.85 649.90,100.90 650.45,101.27 651.00,101.87 651.55,102.46 652.10,102.80 652.45,102.77 652.80,102.52 653.15,102.21 653.50,102.00" fill="none" stroke="#ff1a1a" stroke-width="0.95" stroke-linejoin="round"/>
<polyline points="484.30,152.40 492.62,152.40 500.95,152.40 509.28,152.40 517.60,152.40 518.20,147.78 518.80,141.20 519.40,133.50 520.00,125.50 520.42,116.76 520.85,107.07 521.28,97.59 521.70,89.50 522.03,83.11 522.35,77.78 522.67,73.32 523.00,69.50 523.27,66.17 523.55,63.47 523.83,61.66 524.10,61.00 524.42,61.66 524.75,63.47 525.08,66.17 525.40,69.50 525.85,73.32 526.30,77.78 526.75,83.11 527.20,89.50 527.62,97.71 528.05,107.40 528.48,117.14 528.90,125.50 529.38,132.29 529.85,138.22 530.32,143.18 530.80,147.10 531.40,149.70 532.00,151.10 532.60,151.83 533.20,152.40 537.00,152.40 540.80,152.40 544.60,152.40 548.40,152.40 548.83,151.39 549.25,149.98 549.67,148.15 550.10,145.90 550.45,143.27 550.80,140.24 551.15,136.75 551.50,132.70 551.92,127.72 552.35,121.97 552.78,116.19 553.20,111.10 553.50,107.20 553.80,104.00 554.10,100.75 554.40,96.70 554.52,91.21 554.65,84.83 554.77,78.59 554.90,73.50 555.25,69.58 555.60,66.37 555.95,64.20 556.30,63.40 556.72,64.54 557.15,67.29 557.58,70.62 558.00,73.50 558.30,75.89 558.60,78.26 558.90,80.35 559.20,81.90 559.68,82.99 560.15,83.70 560.62,83.81 561.10,83.10 561.52,81.36 561.95,78.75 562.38,75.62 562.80,72.30 563.22,68.65 563.65,64.57 564.08,60.46 564.50,56.70 564.85,53.05 565.20,49.43 565.55,46.43 565.90,44.70 566.33,44.63 566.75,45.83 567.17,47.65 567.60,49.50 567.90,51.35 568.20,53.47 568.50,55.72 568.80,57.90 569.10,60.25 569.40,62.77 569.70,64.96 570.00,66.30 570.30,66.74 570.60,66.52 570.90,65.60 571.20,63.90 571.68,61.06 572.15,57.23 572.62,53.13 573.10,49.50 573.52,46.39 573.95,43.46 574.38,40.84 574.80,38.70 575.22,36.76 575.65,35.04 576.08,34.13 576.50,34.60 576.85,36.89 577.20,40.59 577.55,45.03 577.90,49.50 578.15,53.82 578.40,58.36 578.65,63.26 578.90,68.70 579.08,75.07 579.25,82.18 579.42,89.24 579.60,95.50 579.77,100.67 579.95,105.20 580.12,109.37 580.30,113.50 580.55,117.65 580.80,121.67 581.05,125.51 581.30,129.10 581.77,132.47 582.25,135.62 582.73,138.52 583.20,141.10 583.80,143.31 584.40,145.19 585.00,146.83 585.60,148.30 586.20,149.68 586.80,150.91 587.40,151.86 588.00,152.40 588.60,152.40 589.20,152.18 589.80,151.56 590.40,150.70 591.00,149.64 591.60,148.34 592.20,146.72 592.80,144.70 593.27,142.18 593.75,139.22 594.23,136.01 594.70,132.70 595.12,129.13 595.55,125.27 595.98,121.53 596.40,118.30 596.83,115.71 597.25,113.56 597.67,111.67 598.10,109.90 598.50,108.07 598.90,106.32 599.30,104.93 599.70,104.20 600.15,104.29 600.60,105.02 601.05,106.16 601.50,107.50 601.95,108.89 602.40,110.47 602.85,112.47 603.30,115.10 603.97,118.70 604.65,123.06 605.33,127.56 606.00,131.60 606.70,135.11 607.40,138.39 608.10,141.35 608.80,143.90 609.47,146.00 610.15,147.69 610.83,149.07 611.50,150.20 612.33,151.15 613.15,151.86 613.97,152.24 614.80,152.20 615.55,151.81 616.30,151.08 617.05,149.86 617.80,148.00 618.50,145.50 619.20,142.43 619.90,138.71 620.60,134.30 621.08,128.86 621.55,122.52 622.02,115.92 622.50,109.70 622.85,103.93 623.20,98.30 623.55,92.87 623.90,87.70 624.23,83.04 624.55,78.79 624.88,74.44 625.20,69.50 625.58,63.45 625.95,56.67 626.33,50.07 626.70,44.50 627.10,39.80 627.50,35.62 627.90,32.64 628.30,31.50 628.72,32.52 629.15,35.31 629.58,39.45 630.00,44.50 630.52,51.02 631.05,59.00 631.58,67.23 632.10,74.50 632.65,80.54 633.20,85.99 633.75,90.94 634.30,95.50 634.42,99.64 634.55,103.31 634.67,106.63 634.80,109.70 635.50,112.52 636.20,115.05 636.90,117.30 637.60,119.30 638.15,121.10 638.70,122.68 639.25,123.92 639.80,124.70 640.27,124.85 640.75,124.48 641.23,123.89 641.70,123.40 642.18,122.93 642.65,122.36 643.12,121.97 643.60,122.00 644.15,122.54 644.70,123.45 645.25,124.66 645.80,126.10 646.35,127.96 646.90,130.19 647.45,132.44 648.00,134.30 648.48,135.80 648.95,137.09 649.42,138.04 649.90,138.50 650.25,138.42 650.60,137.87 650.95,136.94 651.30,135.70 651.65,133.84 652.00,131.42 652.35,129.10 652.70,127.50" fill="none" stroke="#1a1aff" stroke-width="0.95" stroke-linejoin="round"/>
<line x1="159.2" y1="36.6" x2="176.1" y2="36.6" stroke="#ff1a1a" stroke-width="1.25" opacity="0.75"/>
<line x1="159.2" y1="47.6" x2="176.1" y2="47.6" stroke="#1a1aff" stroke-width="1.25" opacity="0.75"/>
<text x="182.4" y="39.0" font-size="8" fill="#111" stroke="#111" stroke-width="0.15">GNN</text>
<text x="182.4" y="50.0" font-size="8" fill="#111" stroke="#111" stroke-width="0.15">Atom</text>
<line x1="387.4" y1="36.1" x2="403.9" y2="36.1" stroke="#ff1a1a" stroke-width="1.25" opacity="0.75"/>
<line x1="387.4" y1="47.1" x2="403.9" y2="47.1" stroke="#1a1aff" stroke-width="1.25" opacity="0.75"/>
<text x="410.6" y="38.5" font-size="8" fill="#111" stroke="#111" stroke-width="0.15">GNN</text>
<text x="410.6" y="49.5" font-size="8" fill="#111" stroke="#111" stroke-width="0.15">Atom</text>
<line x1="491.2" y1="36.1" x2="508" y2="36.1" stroke="#ff1a1a" stroke-width="1.25" opacity="0.75"/>
<line x1="491.2" y1="47.1" x2="508" y2="47.1" stroke="#1a1aff" stroke-width="1.25" opacity="0.75"/>
<text x="514" y="38.5" font-size="8" fill="#111" stroke="#111" stroke-width="0.15">GNN</text>
<text x="514" y="49.5" font-size="8" fill="#111" stroke="#111" stroke-width="0.15">Atom</text>
<text x="506.6" y="74.6" font-size="10.3" fill="#c030dc">P1</text>
<text x="546.9" y="58.5" font-size="10.3" fill="#2e8f22">P2</text>
<text x="594.2" y="96.6" font-size="10.1" fill="#111">P3</text>
<text x="38.3" y="198.4" font-size="14.7" fill="#111">[010]</text>
<text x="146.9" y="198.4" font-size="14.7" fill="#111">[001]</text>
<text x="505" y="198.4" font-size="14.7" fill="#111">[010]</text>
<text x="612.6" y="198.4" font-size="14.7" fill="#111">[001]</text>
<text x="281.2" y="202" font-size="15.2" fill="#111">CG</text>
<text x="380.7" y="202" font-size="15.2" fill="#111">Atom</text>
<circle cx="7.0" cy="210.1" r="2.75" fill="#ee3040" fill-opacity="0.3"/>
<circle cx="7.9" cy="209.2" r="2.75" fill="#d81c2a" fill-opacity="0.8"/>
<circle cx="9.3" cy="209.6" r="2.9" fill="#2418f2"/>
<circle cx="16.9" cy="212.9" r="2.75" fill="#ee3040" fill-opacity="0.3"/>
<circle cx="14.0" cy="212.1" r="2.9" fill="#2418f2"/>
<circle cx="15.3" cy="212.9" r="2.75" fill="#d81c2a" fill-opacity="0.8"/>
<circle cx="28.2" cy="208.2" r="2.75" fill="#d81c2a" fill-opacity="0.8"/>
<circle cx="27.4" cy="209.3" r="2.9" fill="#2418f2"/>
<circle cx="29.7" cy="212.1" r="2.75" fill="#ee3040" fill-opacity="0.3"/>
<circle cx="30.6" cy="211.4" r="2.75" fill="#d81c2a" fill-opacity="0.8"/>
<circle cx="32.2" cy="212.3" r="2.9" fill="#2418f2"/>
<circle cx="41.2" cy="211.5" r="2.75" fill="#ee3040" fill-opacity="0.3"/>
<circle cx="42.6" cy="210.4" r="2.75" fill="#d81c2a" fill-opacity="0.8"/>
<circle cx="43.9" cy="210.0" r="2.9" fill="#2418f2"/>
<circle cx="51.4" cy="210.6" r="2.75" fill="#ee3040" fill-opacity="0.3"/>
<circle cx="48.7" cy="213.2" r="2.9" fill="#2418f2"/>
<circle cx="50.0" cy="211.9" r="2.75" fill="#d81c2a" fill-opacity="0.8"/>
<circle cx="60.3" cy="207.5" r="2.75" fill="#ee3040" fill-opacity="0.3"/>
<circle cx="60.8" cy="208.9" r="2.75" fill="#d81c2a" fill-opacity="0.8"/>
<circle cx="60.6" cy="210.6" r="2.9" fill="#2418f2"/>
<circle cx="62.5" cy="213.4" r="2.75" fill="#ee3040" fill-opacity="0.3"/>
<circle cx="64.0" cy="213.5" r="2.75" fill="#d81c2a" fill-opacity="0.8"/>
<circle cx="65.9" cy="213.0" r="2.9" fill="#2418f2"/>
<circle cx="77.2" cy="211.7" r="2.75" fill="#ee3040" fill-opacity="0.3"/>
<circle cx="77.8" cy="210.6" r="2.75" fill="#d81c2a" fill-opacity="0.8"/>
<circle cx="79.2" cy="209.4" r="2.9" fill="#2418f2"/>
<circle cx="84.5" cy="211.0" r="2.75" fill="#ee3040" fill-opacity="0.3"/>
<circle cx="84.6" cy="211.8" r="2.75" fill="#d81c2a" fill-opacity="0.8"/>
<circle cx="84.5" cy="212.9" r="2.9" fill="#2418f2"/>
<circle cx="94.8" cy="212.5" r="2.75" fill="#ee3040" fill-opacity="0.3"/>
<circle cx="95.9" cy="211.9" r="2.75" fill="#d81c2a" fill-opacity="0.8"/>
<circle cx="96.2" cy="210.4" r="2.9" fill="#2418f2"/>
<circle cx="101.5" cy="216.1" r="2.75" fill="#ee3040" fill-opacity="0.3"/>
<circle cx="101.6" cy="215.0" r="2.75" fill="#d81c2a" fill-opacity="0.8"/>
<circle cx="101.5" cy="213.7" r="2.9" fill="#2418f2"/>
<circle cx="6.6" cy="226.2" r="2.75" fill="#ee3040" fill-opacity="0.3"/>
<circle cx="9.5" cy="227.7" r="2.9" fill="#2418f2"/>
<circle cx="7.8" cy="227.5" r="2.75" fill="#d81c2a" fill-opacity="0.8"/>
<circle cx="14.5" cy="222.5" r="2.75" fill="#ee3040" fill-opacity="0.3"/>
<circle cx="15.1" cy="223.5" r="2.75" fill="#d81c2a" fill-opacity="0.8"/>
<circle cx="14.7" cy="224.9" r="2.9" fill="#2418f2"/>
<circle cx="27.5" cy="226.5" r="2.75" fill="#d81c2a" fill-opacity="0.8"/>
<circle cx="26.3" cy="226.5" r="2.9" fill="#2418f2"/>
<circle cx="31.2" cy="224.1" r="2.9" fill="#2418f2"/>
<circle cx="31.9" cy="225.2" r="2.75" fill="#d81c2a" fill-opacity="0.8"/>
<circle cx="42.7" cy="227.9" r="2.75" fill="#d81c2a" fill-opacity="0.8"/>
<circle cx="43.4" cy="226.8" r="2.9" fill="#2418f2"/>
<circle cx="49.4" cy="225.2" r="2.75" fill="#d81c2a" fill-opacity="0.8"/>
<circle cx="48.4" cy="223.9" r="2.9" fill="#2418f2"/>
<circle cx="60.9" cy="227.7" r="2.9" fill="#2418f2"/>
<circle cx="59.1" cy="227.3" r="2.75" fill="#d81c2a" fill-opacity="0.8"/>
<circle cx="66.3" cy="222.0" r="2.75" fill="#ee3040" fill-opacity="0.3"/>
<circle cx="66.7" cy="223.3" r="2.75" fill="#d81c2a" fill-opacity="0.8"/>
<circle cx="66.0" cy="225.2" r="2.9" fill="#2418f2"/>
<circle cx="81.4" cy="227.9" r="2.75" fill="#ee3040" fill-opacity="0.3"/>
<circle cx="79.8" cy="227.0" r="2.75" fill="#d81c2a" fill-opacity="0.8"/>
<circle cx="78.4" cy="227.4" r="2.9" fill="#2418f2"/>
<circle cx="83.7" cy="226.5" r="2.75" fill="#d81c2a" fill-opacity="0.8"/>
<circle cx="83.5" cy="225.2" r="2.9" fill="#2418f2"/>
<circle cx="97.9" cy="225.4" r="2.75" fill="#ee3040" fill-opacity="0.3"/>
<circle cx="96.7" cy="226.9" r="2.75" fill="#d81c2a" fill-opacity="0.8"/>
<circle cx="95.1" cy="228.0" r="2.9" fill="#2418f2"/>
<circle cx="100.9" cy="222.2" r="2.75" fill="#ee3040" fill-opacity="0.3"/>
<circle cx="100.9" cy="222.5" r="2.75" fill="#d81c2a" fill-opacity="0.8"/>
<circle cx="100.2" cy="224.5" r="2.9" fill="#2418f2"/>
<circle cx="11.3" cy="242.2" r="2.75" fill="#ee3040" fill-opacity="0.3"/>
<circle cx="10.8" cy="241.3" r="2.75" fill="#d81c2a" fill-opacity="0.8"/>
<circle cx="9.6" cy="239.7" r="2.9" fill="#2418f2"/>
<circle cx="18.0" cy="243.6" r="2.75" fill="#ee3040" fill-opacity="0.3"/>
<circle cx="14.5" cy="241.9" r="2.9" fill="#2418f2"/>
<circle cx="16.7" cy="242.1" r="2.75" fill="#d81c2a" fill-opacity="0.8"/>
<circle cx="26.5" cy="240.0" r="2.75" fill="#d81c2a" fill-opacity="0.8"/>
<circle cx="26.4" cy="238.3" r="2.9" fill="#2418f2"/>
<circle cx="27.7" cy="241.1" r="2.75" fill="#ee3040" fill-opacity="0.3"/>
<circle cx="29.1" cy="242.0" r="2.75" fill="#d81c2a" fill-opacity="0.8"/>
<circle cx="30.8" cy="241.6" r="2.9" fill="#2418f2"/>
<circle cx="47.2" cy="239.1" r="2.75" fill="#ee3040" fill-opacity="0.3"/>
<circle cx="46.2" cy="238.5" r="2.75" fill="#d81c2a" fill-opacity="0.8"/>
<circle cx="44.3" cy="238.4" r="2.9" fill="#2418f2"/>
<circle cx="45.8" cy="240.6" r="2.75" fill="#ee3040" fill-opacity="0.3"/>
<circle cx="47.1" cy="241.0" r="2.75" fill="#d81c2a" fill-opacity="0.8"/>
<circle cx="48.7" cy="241.2" r="2.9" fill="#2418f2"/>
<circle cx="64.2" cy="237.6" r="2.75" fill="#ee3040" fill-opacity="0.3"/>
<circle cx="63.1" cy="238.2" r="2.75" fill="#d81c2a" fill-opacity="0.8"/>
<circle cx="61.7" cy="239.0" r="2.9" fill="#2418f2"/>
<circle cx="64.9" cy="242.1" r="2.75" fill="#d81c2a" fill-opacity="0.8"/>
<circle cx="66.5" cy="242.4" r="2.9" fill="#2418f2"/>
<circle cx="81.3" cy="238.8" r="2.75" fill="#ee3040" fill-opacity="0.3"/>
<circle cx="79.2" cy="238.0" r="2.9" fill="#2418f2"/>
<circle cx="80.3" cy="239.1" r="2.75" fill="#d81c2a" fill-opacity="0.8"/>
<circle cx="84.5" cy="241.4" r="2.9" fill="#2418f2"/>
<circle cx="85.5" cy="240.7" r="2.75" fill="#d81c2a" fill-opacity="0.8"/>
<circle cx="98.2" cy="238.8" r="2.75" fill="#ee3040" fill-opacity="0.3"/>
<circle cx="97.3" cy="238.8" r="2.75" fill="#d81c2a" fill-opacity="0.8"/>
<circle cx="95.3" cy="238.9" r="2.9" fill="#2418f2"/>
<circle cx="99.7" cy="244.2" r="2.75" fill="#ee3040" fill-opacity="0.3"/>
<circle cx="100.2" cy="243.4" r="2.75" fill="#d81c2a" fill-opacity="0.8"/>
<circle cx="101.0" cy="241.7" r="2.9" fill="#2418f2"/>
<circle cx="8.3" cy="254.6" r="2.75" fill="#ee3040" fill-opacity="0.3"/>
<circle cx="8.8" cy="255.5" r="2.75" fill="#d81c2a" fill-opacity="0.8"/>
<circle cx="8.3" cy="257.6" r="2.9" fill="#2418f2"/>
<circle cx="14.4" cy="256.0" r="2.75" fill="#ee3040" fill-opacity="0.3"/>
<circle cx="13.1" cy="254.4" r="2.9" fill="#2418f2"/>
<circle cx="14.2" cy="255.5" r="2.75" fill="#d81c2a" fill-opacity="0.8"/>
<circle cx="25.2" cy="254.7" r="2.75" fill="#d81c2a" fill-opacity="0.8"/>
<circle cx="25.8" cy="256.1" r="2.9" fill="#2418f2"/>
<circle cx="32.4" cy="250.6" r="2.75" fill="#ee3040" fill-opacity="0.3"/>
<circle cx="30.9" cy="252.9" r="2.9" fill="#2418f2"/>
<circle cx="31.6" cy="252.0" r="2.75" fill="#d81c2a" fill-opacity="0.8"/>
<circle cx="46.1" cy="257.0" r="2.75" fill="#ee3040" fill-opacity="0.3"/>
<circle cx="44.3" cy="256.0" r="2.9" fill="#2418f2"/>
<circle cx="45.2" cy="256.7" r="2.75" fill="#d81c2a" fill-opacity="0.8"/>
<circle cx="48.8" cy="256.0" r="2.75" fill="#ee3040" fill-opacity="0.3"/>
<circle cx="48.6" cy="255.1" r="2.75" fill="#d81c2a" fill-opacity="0.8"/>
<circle cx="49.0" cy="253.6" r="2.9" fill="#2418f2"/>
<circle cx="62.1" cy="256.4" r="2.75" fill="#d81c2a" fill-opacity="0.8"/>
<circle cx="61.1" cy="256.8" r="2.9" fill="#2418f2"/>
<circle cx="62.5" cy="252.2" r="2.75" fill="#ee3040" fill-opacity="0.3"/>
<circle cx="64.1" cy="253.4" r="2.75" fill="#d81c2a" fill-opacity="0.8"/>
<circle cx="65.9" cy="253.5" r="2.9" fill="#2418f2"/>
<circle cx="78.1" cy="256.0" r="2.9" fill="#2418f2"/>
<circle cx="79.8" cy="256.8" r="2.75" fill="#d81c2a" fill-opacity="0.8"/>
<circle cx="81.5" cy="251.2" r="2.75" fill="#ee3040" fill-opacity="0.3"/>
<circle cx="82.4" cy="252.1" r="2.75" fill="#d81c2a" fill-opacity="0.8"/>
<circle cx="83.0" cy="253.2" r="2.9" fill="#2418f2"/>
<circle cx="96.8" cy="259.5" r="2.75" fill="#ee3040" fill-opacity="0.3"/>
<circle cx="96.3" cy="258.9" r="2.75" fill="#d81c2a" fill-opacity="0.8"/>
<circle cx="96.2" cy="256.7" r="2.9" fill="#2418f2"/>
<circle cx="99.7" cy="254.4" r="2.75" fill="#ee3040" fill-opacity="0.3"/>
<circle cx="100.7" cy="253.8" r="2.75" fill="#d81c2a" fill-opacity="0.8"/>
<circle cx="101.9" cy="253.8" r="2.9" fill="#2418f2"/>
<circle cx="7.3" cy="268.2" r="2.75" fill="#d81c2a" fill-opacity="0.8"/>
<circle cx="8.7" cy="269.1" r="2.9" fill="#2418f2"/>
<circle cx="11.5" cy="273.6" r="2.75" fill="#ee3040" fill-opacity="0.3"/>
<circle cx="13.5" cy="271.1" r="2.9" fill="#2418f2"/>
<circle cx="12.5" cy="273.0" r="2.75" fill="#d81c2a" fill-opacity="0.8"/>
<circle cx="28.1" cy="270.4" r="2.75" fill="#d81c2a" fill-opacity="0.8"/>
<circle cx="27.0" cy="269.2" r="2.9" fill="#2418f2"/>
<circle cx="33.6" cy="269.9" r="2.75" fill="#ee3040" fill-opacity="0.3"/>
<circle cx="33.1" cy="271.7" r="2.75" fill="#d81c2a" fill-opacity="0.8"/>
<circle cx="31.7" cy="272.8" r="2.9" fill="#2418f2"/>
<circle cx="41.0" cy="266.8" r="2.75" fill="#ee3040" fill-opacity="0.3"/>
<circle cx="42.6" cy="268.2" r="2.75" fill="#d81c2a" fill-opacity="0.8"/>
<circle cx="43.9" cy="269.4" r="2.9" fill="#2418f2"/>
<circle cx="47.2" cy="272.0" r="2.75" fill="#ee3040" fill-opacity="0.3"/>
<circle cx="47.8" cy="271.6" r="2.75" fill="#d81c2a" fill-opacity="0.8"/>
<circle cx="49.5" cy="272.0" r="2.9" fill="#2418f2"/>
<circle cx="59.5" cy="269.1" r="2.75" fill="#ee3040" fill-opacity="0.3"/>
<circle cx="60.7" cy="269.7" r="2.75" fill="#d81c2a" fill-opacity="0.8"/>
<circle cx="62.2" cy="269.7" r="2.9" fill="#2418f2"/>
<circle cx="68.2" cy="273.5" r="2.75" fill="#ee3040" fill-opacity="0.3"/>
<circle cx="67.7" cy="273.4" r="2.75" fill="#d81c2a" fill-opacity="0.8"/>
<circle cx="66.6" cy="272.8" r="2.9" fill="#2418f2"/>
<circle cx="77.8" cy="267.5" r="2.75" fill="#ee3040" fill-opacity="0.3"/>
<circle cx="79.0" cy="269.7" r="2.9" fill="#2418f2"/>
<circle cx="78.4" cy="268.5" r="2.75" fill="#d81c2a" fill-opacity="0.8"/>
<circle cx="84.1" cy="271.9" r="2.9" fill="#2418f2"/>
<circle cx="84.8" cy="274.0" r="2.75" fill="#d81c2a" fill-opacity="0.8"/>
<circle cx="96.0" cy="272.4" r="2.75" fill="#ee3040" fill-opacity="0.3"/>
<circle cx="95.4" cy="269.8" r="2.9" fill="#2418f2"/>
<circle cx="95.9" cy="271.5" r="2.75" fill="#d81c2a" fill-opacity="0.8"/>
<circle cx="96.9" cy="271.1" r="2.75" fill="#ee3040" fill-opacity="0.3"/>
<circle cx="98.2" cy="272.5" r="2.75" fill="#d81c2a" fill-opacity="0.8"/>
<circle cx="100.2" cy="272.6" r="2.9" fill="#2418f2"/>
<circle cx="9.5" cy="286.2" r="2.75" fill="#ee3040" fill-opacity="0.3"/>
<circle cx="8.6" cy="285.3" r="2.9" fill="#2418f2"/>
<circle cx="9.5" cy="286.4" r="2.75" fill="#d81c2a" fill-opacity="0.8"/>
<circle cx="15.4" cy="284.9" r="2.75" fill="#ee3040" fill-opacity="0.3"/>
<circle cx="15.5" cy="284.5" r="2.75" fill="#d81c2a" fill-opacity="0.8"/>
<circle cx="14.0" cy="283.1" r="2.9" fill="#2418f2"/>
<circle cx="26.3" cy="287.3" r="2.75" fill="#d81c2a" fill-opacity="0.8"/>
<circle cx="26.5" cy="286.3" r="2.9" fill="#2418f2"/>
<circle cx="31.0" cy="282.5" r="2.9" fill="#2418f2"/>
<circle cx="30.9" cy="284.1" r="2.75" fill="#d81c2a" fill-opacity="0.8"/>
<circle cx="44.1" cy="283.9" r="2.75" fill="#ee3040" fill-opacity="0.3"/>
<circle cx="44.5" cy="285.3" r="2.75" fill="#d81c2a" fill-opacity="0.8"/>
<circle cx="44.7" cy="286.3" r="2.9" fill="#2418f2"/>
<circle cx="52.8" cy="283.3" r="2.75" fill="#ee3040" fill-opacity="0.3"/>
<circle cx="51.9" cy="283.5" r="2.75" fill="#d81c2a" fill-opacity="0.8"/>
<circle cx="49.9" cy="282.8" r="2.9" fill="#2418f2"/>
<circle cx="60.7" cy="285.4" r="2.75" fill="#d81c2a" fill-opacity="0.8"/>
<circle cx="62.1" cy="285.9" r="2.9" fill="#2418f2"/>
<circle cx="67.2" cy="285.6" r="2.75" fill="#ee3040" fill-opacity="0.3"/>
<circle cx="66.8" cy="284.5" r="2.75" fill="#d81c2a" fill-opacity="0.8"/>
<circle cx="66.4" cy="282.4" r="2.9" fill="#2418f2"/>
<circle cx="75.3" cy="284.2" r="2.75" fill="#ee3040" fill-opacity="0.3"/>
<circle cx="76.7" cy="284.5" r="2.75" fill="#d81c2a" fill-opacity="0.8"/>
<circle cx="78.5" cy="285.4" r="2.9" fill="#2418f2"/>
<circle cx="81.4" cy="284.9" r="2.75" fill="#ee3040" fill-opacity="0.3"/>
<circle cx="82.7" cy="283.8" r="2.75" fill="#d81c2a" fill-opacity="0.8"/>
<circle cx="83.2" cy="282.9" r="2.9" fill="#2418f2"/>
<circle cx="92.8" cy="286.5" r="2.75" fill="#ee3040" fill-opacity="0.3"/>
<circle cx="94.5" cy="286.7" r="2.75" fill="#d81c2a" fill-opacity="0.8"/>
<circle cx="95.8" cy="285.8" r="2.9" fill="#2418f2"/>
<circle cx="99.6" cy="280.1" r="2.75" fill="#ee3040" fill-opacity="0.3"/>
<circle cx="100.1" cy="282.4" r="2.9" fill="#2418f2"/>
<circle cx="99.6" cy="280.4" r="2.75" fill="#d81c2a" fill-opacity="0.8"/>
<circle cx="119.5" cy="215.6" r="2.75" fill="#ee3040" fill-opacity="0.3"/>
<circle cx="118.8" cy="214.2" r="2.75" fill="#d81c2a" fill-opacity="0.8"/>
<circle cx="117.9" cy="213.4" r="2.9" fill="#2418f2"/>
<circle cx="121.6" cy="206.2" r="2.75" fill="#ee3040" fill-opacity="0.3"/>
<circle cx="122.6" cy="208.8" r="2.9" fill="#2418f2"/>
<circle cx="122.7" cy="207.2" r="2.75" fill="#d81c2a" fill-opacity="0.8"/>
<circle cx="132.3" cy="207.0" r="2.75" fill="#ee3040" fill-opacity="0.3"/>
<circle cx="133.6" cy="207.7" r="2.75" fill="#d81c2a" fill-opacity="0.8"/>
<circle cx="134.8" cy="209.1" r="2.9" fill="#2418f2"/>
<circle cx="139.5" cy="214.8" r="2.75" fill="#d81c2a" fill-opacity="0.8"/>
<circle cx="139.2" cy="213.1" r="2.9" fill="#2418f2"/>
<circle cx="155.5" cy="212.6" r="2.75" fill="#ee3040" fill-opacity="0.3"/>
<circle cx="155.1" cy="212.9" r="2.75" fill="#d81c2a" fill-opacity="0.8"/>
<circle cx="153.3" cy="213.3" r="2.9" fill="#2418f2"/>
<circle cx="158.4" cy="211.9" r="2.75" fill="#ee3040" fill-opacity="0.3"/>
<circle cx="157.5" cy="210.7" r="2.75" fill="#d81c2a" fill-opacity="0.8"/>
<circle cx="157.6" cy="208.9" r="2.9" fill="#2418f2"/>
<circle cx="169.8" cy="208.9" r="2.75" fill="#ee3040" fill-opacity="0.3"/>
<circle cx="171.4" cy="209.9" r="2.75" fill="#d81c2a" fill-opacity="0.8"/>
<circle cx="172.6" cy="209.9" r="2.9" fill="#2418f2"/>
<circle cx="177.1" cy="211.0" r="2.75" fill="#ee3040" fill-opacity="0.3"/>
<circle cx="177.0" cy="212.5" r="2.75" fill="#d81c2a" fill-opacity="0.8"/>
<circle cx="176.9" cy="213.8" r="2.9" fill="#2418f2"/>
<circle cx="191.3" cy="216.0" r="2.75" fill="#ee3040" fill-opacity="0.3"/>
<circle cx="189.3" cy="213.6" r="2.9" fill="#2418f2"/>
<circle cx="189.8" cy="215.7" r="2.75" fill="#d81c2a" fill-opacity="0.8"/>
<circle cx="197.7" cy="206.3" r="2.75" fill="#ee3040" fill-opacity="0.3"/>
<circle cx="194.3" cy="209.1" r="2.9" fill="#2418f2"/>
<circle cx="195.7" cy="207.8" r="2.75" fill="#d81c2a" fill-opacity="0.8"/>
<circle cx="208.6" cy="211.3" r="2.75" fill="#ee3040" fill-opacity="0.3"/>
<circle cx="209.2" cy="209.4" r="2.9" fill="#2418f2"/>
<circle cx="208.2" cy="210.4" r="2.75" fill="#d81c2a" fill-opacity="0.8"/>
<circle cx="214.8" cy="214.8" r="2.75" fill="#d81c2a" fill-opacity="0.8"/>
<circle cx="213.3" cy="213.2" r="2.9" fill="#2418f2"/>
<circle cx="116.6" cy="228.3" r="2.9" fill="#2418f2"/>
<circle cx="117.2" cy="229.6" r="2.75" fill="#d81c2a" fill-opacity="0.8"/>
<circle cx="123.4" cy="225.1" r="2.75" fill="#ee3040" fill-opacity="0.3"/>
<circle cx="121.9" cy="225.1" r="2.9" fill="#2418f2"/>
<circle cx="123.0" cy="225.4" r="2.75" fill="#d81c2a" fill-opacity="0.8"/>
<circle cx="136.4" cy="227.1" r="2.75" fill="#ee3040" fill-opacity="0.3"/>
<circle cx="135.9" cy="224.4" r="2.9" fill="#2418f2"/>
<circle cx="135.8" cy="226.3" r="2.75" fill="#d81c2a" fill-opacity="0.8"/>
<circle cx="140.7" cy="227.9" r="2.9" fill="#2418f2"/>
<circle cx="139.3" cy="226.3" r="2.75" fill="#d81c2a" fill-opacity="0.8"/>
<circle cx="156.0" cy="227.4" r="2.75" fill="#ee3040" fill-opacity="0.3"/>
<circle cx="154.5" cy="227.2" r="2.75" fill="#d81c2a" fill-opacity="0.8"/>
<circle cx="153.4" cy="227.8" r="2.9" fill="#2418f2"/>
<circle cx="156.4" cy="226.7" r="2.75" fill="#ee3040" fill-opacity="0.3"/>
<circle cx="158.1" cy="224.2" r="2.9" fill="#2418f2"/>
<circle cx="157.5" cy="225.4" r="2.75" fill="#d81c2a" fill-opacity="0.8"/>
<circle cx="168.2" cy="228.1" r="2.75" fill="#ee3040" fill-opacity="0.3"/>
<circle cx="170.2" cy="226.4" r="2.75" fill="#d81c2a" fill-opacity="0.8"/>
<circle cx="171.2" cy="224.5" r="2.9" fill="#2418f2"/>
<circle cx="173.0" cy="228.0" r="2.75" fill="#ee3040" fill-opacity="0.3"/>
<circle cx="174.0" cy="227.7" r="2.75" fill="#d81c2a" fill-opacity="0.8"/>
<circle cx="175.9" cy="227.7" r="2.9" fill="#2418f2"/>
<circle cx="191.4" cy="225.9" r="2.75" fill="#ee3040" fill-opacity="0.3"/>
<circle cx="191.0" cy="226.5" r="2.75" fill="#d81c2a" fill-opacity="0.8"/>
<circle cx="190.3" cy="227.7" r="2.9" fill="#2418f2"/>
<circle cx="194.9" cy="225.8" r="2.75" fill="#ee3040" fill-opacity="0.3"/>
<circle cx="195.1" cy="223.1" r="2.9" fill="#2418f2"/>
<circle cx="195.1" cy="224.3" r="2.75" fill="#d81c2a" fill-opacity="0.8"/>
<circle cx="210.3" cy="224.3" r="2.75" fill="#d81c2a" fill-opacity="0.8"/>
<circle cx="209.2" cy="224.4" r="2.9" fill="#2418f2"/>
<circle cx="213.5" cy="229.2" r="2.75" fill="#d81c2a" fill-opacity="0.8"/>
<circle cx="213.8" cy="228.1" r="2.9" fill="#2418f2"/>
<circle cx="119.3" cy="241.5" r="2.75" fill="#ee3040" fill-opacity="0.3"/>
<circle cx="118.0" cy="242.6" r="2.75" fill="#d81c2a" fill-opacity="0.8"/>
<circle cx="117.0" cy="242.9" r="2.9" fill="#2418f2"/>
<circle cx="121.6" cy="240.7" r="2.75" fill="#ee3040" fill-opacity="0.3"/>
<circle cx="121.6" cy="239.8" r="2.75" fill="#d81c2a" fill-opacity="0.8"/>
<circle cx="121.3" cy="238.6" r="2.9" fill="#2418f2"/>
<circle cx="134.9" cy="235.4" r="2.75" fill="#ee3040" fill-opacity="0.3"/>
<circle cx="135.6" cy="236.3" r="2.75" fill="#d81c2a" fill-opacity="0.8"/>
<circle cx="135.1" cy="237.9" r="2.9" fill="#2418f2"/>
<circle cx="141.7" cy="242.7" r="2.75" fill="#ee3040" fill-opacity="0.3"/>
<circle cx="139.5" cy="241.8" r="2.9" fill="#2418f2"/>
<circle cx="140.5" cy="242.4" r="2.75" fill="#d81c2a" fill-opacity="0.8"/>
<circle cx="154.4" cy="240.1" r="2.75" fill="#ee3040" fill-opacity="0.3"/>
<circle cx="154.6" cy="240.3" r="2.75" fill="#d81c2a" fill-opacity="0.8"/>
<circle cx="153.1" cy="242.0" r="2.9" fill="#2418f2"/>
<circle cx="160.5" cy="237.6" r="2.75" fill="#ee3040" fill-opacity="0.3"/>
<circle cx="159.5" cy="237.5" r="2.75" fill="#d81c2a" fill-opacity="0.8"/>
<circle cx="158.2" cy="238.3" r="2.9" fill="#2418f2"/>
<circle cx="174.2" cy="240.0" r="2.75" fill="#ee3040" fill-opacity="0.3"/>
<circle cx="173.3" cy="240.3" r="2.75" fill="#d81c2a" fill-opacity="0.8"/>
<circle cx="171.8" cy="239.4" r="2.9" fill="#2418f2"/>
<circle cx="179.5" cy="242.5" r="2.75" fill="#ee3040" fill-opacity="0.3"/>
<circle cx="178.2" cy="242.0" r="2.75" fill="#d81c2a" fill-opacity="0.8"/>
<circle cx="177.2" cy="242.5" r="2.9" fill="#2418f2"/>
<circle cx="192.9" cy="241.6" r="2.75" fill="#ee3040" fill-opacity="0.3"/>
<circle cx="190.1" cy="242.1" r="2.9" fill="#2418f2"/>
<circle cx="191.4" cy="241.4" r="2.75" fill="#d81c2a" fill-opacity="0.8"/>
<circle cx="194.2" cy="239.7" r="2.75" fill="#ee3040" fill-opacity="0.3"/>
<circle cx="194.9" cy="238.6" r="2.75" fill="#d81c2a" fill-opacity="0.8"/>
<circle cx="194.7" cy="237.1" r="2.9" fill="#2418f2"/>
<circle cx="207.8" cy="235.1" r="2.75" fill="#ee3040" fill-opacity="0.3"/>
<circle cx="208.1" cy="238.0" r="2.9" fill="#2418f2"/>
<circle cx="207.7" cy="235.9" r="2.75" fill="#d81c2a" fill-opacity="0.8"/>
<circle cx="214.7" cy="243.4" r="2.75" fill="#ee3040" fill-opacity="0.3"/>
<circle cx="214.0" cy="243.0" r="2.75" fill="#d81c2a" fill-opacity="0.8"/>
<circle cx="212.7" cy="241.8" r="2.9" fill="#2418f2"/>
<circle cx="119.8" cy="258.2" r="2.75" fill="#ee3040" fill-opacity="0.3"/>
<circle cx="118.6" cy="257.3" r="2.75" fill="#d81c2a" fill-opacity="0.8"/>
<circle cx="116.9" cy="257.1" r="2.9" fill="#2418f2"/>
<circle cx="123.7" cy="255.3" r="2.75" fill="#ee3040" fill-opacity="0.3"/>
<circle cx="122.6" cy="254.6" r="2.75" fill="#d81c2a" fill-opacity="0.8"/>
<circle cx="121.9" cy="253.1" r="2.9" fill="#2418f2"/>
<circle cx="134.0" cy="249.6" r="2.75" fill="#ee3040" fill-opacity="0.3"/>
<circle cx="135.6" cy="252.7" r="2.9" fill="#2418f2"/>
<circle cx="135.4" cy="250.8" r="2.75" fill="#d81c2a" fill-opacity="0.8"/>
<circle cx="141.7" cy="259.7" r="2.75" fill="#ee3040" fill-opacity="0.3"/>
<circle cx="140.0" cy="256.3" r="2.9" fill="#2418f2"/>
<circle cx="141.3" cy="257.8" r="2.75" fill="#d81c2a" fill-opacity="0.8"/>
<circle cx="154.2" cy="254.2" r="2.75" fill="#ee3040" fill-opacity="0.3"/>
<circle cx="153.9" cy="256.8" r="2.9" fill="#2418f2"/>
<circle cx="154.4" cy="254.7" r="2.75" fill="#d81c2a" fill-opacity="0.8"/>
<circle cx="158.7" cy="255.0" r="2.75" fill="#ee3040" fill-opacity="0.3"/>
<circle cx="158.9" cy="254.5" r="2.75" fill="#d81c2a" fill-opacity="0.8"/>
<circle cx="159.2" cy="252.5" r="2.9" fill="#2418f2"/>
<circle cx="171.8" cy="255.0" r="2.75" fill="#ee3040" fill-opacity="0.3"/>
<circle cx="172.4" cy="254.6" r="2.75" fill="#d81c2a" fill-opacity="0.8"/>
<circle cx="171.2" cy="252.8" r="2.9" fill="#2418f2"/>
<circle cx="173.5" cy="255.9" r="2.75" fill="#ee3040" fill-opacity="0.3"/>
<circle cx="175.9" cy="256.6" r="2.9" fill="#2418f2"/>
<circle cx="174.1" cy="256.2" r="2.75" fill="#d81c2a" fill-opacity="0.8"/>
<circle cx="190.8" cy="254.0" r="2.75" fill="#ee3040" fill-opacity="0.3"/>
<circle cx="190.1" cy="255.6" r="2.75" fill="#d81c2a" fill-opacity="0.8"/>
<circle cx="189.7" cy="256.8" r="2.9" fill="#2418f2"/>
<circle cx="195.9" cy="255.3" r="2.75" fill="#ee3040" fill-opacity="0.3"/>
<circle cx="195.5" cy="253.2" r="2.9" fill="#2418f2"/>
<circle cx="196.3" cy="254.9" r="2.75" fill="#d81c2a" fill-opacity="0.8"/>
<circle cx="209.4" cy="252.6" r="2.75" fill="#d81c2a" fill-opacity="0.8"/>
<circle cx="208.3" cy="252.3" r="2.9" fill="#2418f2"/>
<circle cx="214.7" cy="259.0" r="2.75" fill="#ee3040" fill-opacity="0.3"/>
<circle cx="213.4" cy="258.2" r="2.75" fill="#d81c2a" fill-opacity="0.8"/>
<circle cx="213.1" cy="256.5" r="2.9" fill="#2418f2"/>
<circle cx="116.2" cy="270.6" r="2.75" fill="#ee3040" fill-opacity="0.3"/>
<circle cx="115.9" cy="270.7" r="2.75" fill="#d81c2a" fill-opacity="0.8"/>
<circle cx="117.0" cy="271.8" r="2.9" fill="#2418f2"/>
<circle cx="119.8" cy="266.2" r="2.75" fill="#ee3040" fill-opacity="0.3"/>
<circle cx="120.9" cy="266.7" r="2.75" fill="#d81c2a" fill-opacity="0.8"/>
<circle cx="122.3" cy="268.3" r="2.9" fill="#2418f2"/>
<circle cx="138.4" cy="266.3" r="2.75" fill="#ee3040" fill-opacity="0.3"/>
<circle cx="137.3" cy="267.7" r="2.75" fill="#d81c2a" fill-opacity="0.8"/>
<circle cx="135.5" cy="268.5" r="2.9" fill="#2418f2"/>
<circle cx="140.2" cy="273.4" r="2.75" fill="#d81c2a" fill-opacity="0.8"/>
<circle cx="140.1" cy="272.3" r="2.9" fill="#2418f2"/>
<circle cx="153.3" cy="272.5" r="2.9" fill="#2418f2"/>
<circle cx="153.7" cy="271.4" r="2.75" fill="#d81c2a" fill-opacity="0.8"/>
<circle cx="158.6" cy="266.6" r="2.75" fill="#ee3040" fill-opacity="0.3"/>
<circle cx="158.3" cy="268.0" r="2.75" fill="#d81c2a" fill-opacity="0.8"/>
<circle cx="158.5" cy="269.0" r="2.9" fill="#2418f2"/>
<circle cx="169.0" cy="270.5" r="2.75" fill="#ee3040" fill-opacity="0.3"/>
<circle cx="170.5" cy="269.8" r="2.75" fill="#d81c2a" fill-opacity="0.8"/>
<circle cx="171.5" cy="268.2" r="2.9" fill="#2418f2"/>
<circle cx="174.5" cy="272.1" r="2.75" fill="#d81c2a" fill-opacity="0.8"/>
<circle cx="176.2" cy="271.4" r="2.9" fill="#2418f2"/>
<circle cx="189.3" cy="268.8" r="2.75" fill="#ee3040" fill-opacity="0.3"/>
<circle cx="190.0" cy="270.0" r="2.75" fill="#d81c2a" fill-opacity="0.8"/>
<circle cx="190.1" cy="272.1" r="2.9" fill="#2418f2"/>
<circle cx="196.8" cy="267.7" r="2.75" fill="#ee3040" fill-opacity="0.3"/>
<circle cx="194.0" cy="268.1" r="2.9" fill="#2418f2"/>
<circle cx="195.4" cy="267.1" r="2.75" fill="#d81c2a" fill-opacity="0.8"/>
<circle cx="207.2" cy="268.0" r="2.75" fill="#d81c2a" fill-opacity="0.8"/>
<circle cx="208.5" cy="268.6" r="2.9" fill="#2418f2"/>
<circle cx="216.0" cy="272.6" r="2.75" fill="#ee3040" fill-opacity="0.3"/>
<circle cx="214.5" cy="273.3" r="2.75" fill="#d81c2a" fill-opacity="0.8"/>
<circle cx="213.3" cy="273.1" r="2.9" fill="#2418f2"/>
<circle cx="119.0" cy="287.7" r="2.75" fill="#d81c2a" fill-opacity="0.8"/>
<circle cx="117.5" cy="287.0" r="2.9" fill="#2418f2"/>
<circle cx="123.4" cy="279.4" r="2.75" fill="#ee3040" fill-opacity="0.3"/>
<circle cx="123.6" cy="281.2" r="2.75" fill="#d81c2a" fill-opacity="0.8"/>
<circle cx="122.2" cy="282.7" r="2.9" fill="#2418f2"/>
<circle cx="133.5" cy="280.7" r="2.75" fill="#ee3040" fill-opacity="0.3"/>
<circle cx="134.6" cy="281.7" r="2.75" fill="#d81c2a" fill-opacity="0.8"/>
<circle cx="135.5" cy="282.7" r="2.9" fill="#2418f2"/>
<circle cx="138.6" cy="287.9" r="2.75" fill="#ee3040" fill-opacity="0.3"/>
<circle cx="139.2" cy="287.8" r="2.75" fill="#d81c2a" fill-opacity="0.8"/>
<circle cx="140.1" cy="287.4" r="2.9" fill="#2418f2"/>
<circle cx="156.7" cy="287.1" r="2.75" fill="#ee3040" fill-opacity="0.3"/>
<circle cx="155.8" cy="287.3" r="2.75" fill="#d81c2a" fill-opacity="0.8"/>
<circle cx="154.4" cy="287.0" r="2.9" fill="#2418f2"/>
<circle cx="158.2" cy="284.9" r="2.75" fill="#ee3040" fill-opacity="0.3"/>
<circle cx="159.0" cy="284.4" r="2.75" fill="#d81c2a" fill-opacity="0.8"/>
<circle cx="158.6" cy="282.4" r="2.9" fill="#2418f2"/>
<circle cx="169.1" cy="282.2" r="2.75" fill="#d81c2a" fill-opacity="0.8"/>
<circle cx="171.1" cy="282.1" r="2.9" fill="#2418f2"/>
<circle cx="178.2" cy="286.0" r="2.75" fill="#ee3040" fill-opacity="0.3"/>
<circle cx="177.2" cy="286.4" r="2.75" fill="#d81c2a" fill-opacity="0.8"/>
<circle cx="176.0" cy="286.8" r="2.9" fill="#2418f2"/>
<circle cx="188.0" cy="284.3" r="2.75" fill="#ee3040" fill-opacity="0.3"/>
<circle cx="189.9" cy="286.7" r="2.9" fill="#2418f2"/>
<circle cx="188.9" cy="285.6" r="2.75" fill="#d81c2a" fill-opacity="0.8"/>
<circle cx="197.4" cy="283.6" r="2.75" fill="#ee3040" fill-opacity="0.3"/>
<circle cx="195.5" cy="283.3" r="2.9" fill="#2418f2"/>
<circle cx="196.7" cy="283.4" r="2.75" fill="#d81c2a" fill-opacity="0.8"/>
<circle cx="208.5" cy="281.4" r="2.75" fill="#d81c2a" fill-opacity="0.8"/>
<circle cx="208.5" cy="283.2" r="2.9" fill="#2418f2"/>
<circle cx="214.1" cy="284.3" r="2.75" fill="#ee3040" fill-opacity="0.3"/>
<circle cx="213.5" cy="285.4" r="2.75" fill="#d81c2a" fill-opacity="0.8"/>
<circle cx="213.6" cy="286.6" r="2.9" fill="#2418f2"/>
<circle cx="472.7" cy="206.2" r="2.75" fill="#ee3040" fill-opacity="0.3"/>
<circle cx="474.0" cy="206.7" r="2.75" fill="#d81c2a" fill-opacity="0.8"/>
<circle cx="474.6" cy="209.0" r="2.9" fill="#2418f2"/>
<circle cx="479.0" cy="215.8" r="2.75" fill="#ee3040" fill-opacity="0.3"/>
<circle cx="478.8" cy="213.4" r="2.9" fill="#2418f2"/>
<circle cx="479.6" cy="214.8" r="2.75" fill="#d81c2a" fill-opacity="0.8"/>
<circle cx="493.0" cy="207.9" r="2.75" fill="#ee3040" fill-opacity="0.3"/>
<circle cx="492.8" cy="208.5" r="2.75" fill="#d81c2a" fill-opacity="0.8"/>
<circle cx="492.9" cy="210.3" r="2.9" fill="#2418f2"/>
<circle cx="501.1" cy="214.3" r="2.75" fill="#ee3040" fill-opacity="0.3"/>
<circle cx="499.9" cy="214.0" r="2.75" fill="#d81c2a" fill-opacity="0.8"/>
<circle cx="498.2" cy="213.7" r="2.9" fill="#2418f2"/>
<circle cx="512.0" cy="208.2" r="2.75" fill="#ee3040" fill-opacity="0.3"/>
<circle cx="510.6" cy="209.1" r="2.75" fill="#d81c2a" fill-opacity="0.8"/>
<circle cx="509.1" cy="210.1" r="2.9" fill="#2418f2"/>
<circle cx="517.9" cy="211.7" r="2.75" fill="#ee3040" fill-opacity="0.3"/>
<circle cx="516.2" cy="212.2" r="2.75" fill="#d81c2a" fill-opacity="0.8"/>
<circle cx="514.6" cy="213.7" r="2.9" fill="#2418f2"/>
<circle cx="525.6" cy="206.0" r="2.75" fill="#ee3040" fill-opacity="0.3"/>
<circle cx="526.2" cy="207.3" r="2.75" fill="#d81c2a" fill-opacity="0.8"/>
<circle cx="525.7" cy="209.4" r="2.9" fill="#2418f2"/>
<circle cx="528.7" cy="214.8" r="2.75" fill="#ee3040" fill-opacity="0.3"/>
<circle cx="529.2" cy="214.4" r="2.75" fill="#d81c2a" fill-opacity="0.8"/>
<circle cx="531.0" cy="213.3" r="2.9" fill="#2418f2"/>
<circle cx="544.7" cy="211.5" r="2.75" fill="#ee3040" fill-opacity="0.3"/>
<circle cx="544.0" cy="211.2" r="2.75" fill="#d81c2a" fill-opacity="0.8"/>
<circle cx="542.8" cy="209.3" r="2.9" fill="#2418f2"/>
<circle cx="548.5" cy="210.7" r="2.75" fill="#ee3040" fill-opacity="0.3"/>
<circle cx="548.1" cy="213.8" r="2.9" fill="#2418f2"/>
<circle cx="547.8" cy="212.0" r="2.75" fill="#d81c2a" fill-opacity="0.8"/>
<circle cx="563.3" cy="211.9" r="2.75" fill="#ee3040" fill-opacity="0.3"/>
<circle cx="561.7" cy="211.8" r="2.75" fill="#d81c2a" fill-opacity="0.8"/>
<circle cx="559.9" cy="210.0" r="2.9" fill="#2418f2"/>
<circle cx="562.9" cy="215.9" r="2.75" fill="#ee3040" fill-opacity="0.3"/>
<circle cx="563.8" cy="214.7" r="2.75" fill="#d81c2a" fill-opacity="0.8"/>
<circle cx="565.3" cy="213.8" r="2.9" fill="#2418f2"/>
<circle cx="472.4" cy="229.7" r="2.75" fill="#ee3040" fill-opacity="0.3"/>
<circle cx="473.5" cy="229.8" r="2.75" fill="#d81c2a" fill-opacity="0.8"/>
<circle cx="474.6" cy="228.9" r="2.9" fill="#2418f2"/>
<circle cx="478.9" cy="224.1" r="2.9" fill="#2418f2"/>
<circle cx="477.6" cy="223.5" r="2.75" fill="#d81c2a" fill-opacity="0.8"/>
<circle cx="493.4" cy="224.5" r="2.75" fill="#ee3040" fill-opacity="0.3"/>
<circle cx="493.3" cy="225.9" r="2.75" fill="#d81c2a" fill-opacity="0.8"/>
<circle cx="492.5" cy="227.4" r="2.9" fill="#2418f2"/>
<circle cx="498.7" cy="225.4" r="2.75" fill="#ee3040" fill-opacity="0.3"/>
<circle cx="497.7" cy="224.5" r="2.75" fill="#d81c2a" fill-opacity="0.8"/>
<circle cx="497.3" cy="223.4" r="2.9" fill="#2418f2"/>
<circle cx="512.8" cy="227.7" r="2.75" fill="#ee3040" fill-opacity="0.3"/>
<circle cx="511.8" cy="226.8" r="2.75" fill="#d81c2a" fill-opacity="0.8"/>
<circle cx="509.7" cy="227.8" r="2.9" fill="#2418f2"/>
<circle cx="514.9" cy="222.1" r="2.75" fill="#ee3040" fill-opacity="0.3"/>
<circle cx="515.8" cy="222.0" r="2.75" fill="#d81c2a" fill-opacity="0.8"/>
<circle cx="514.8" cy="223.7" r="2.9" fill="#2418f2"/>
<circle cx="525.3" cy="229.2" r="2.75" fill="#d81c2a" fill-opacity="0.8"/>
<circle cx="526.1" cy="228.1" r="2.9" fill="#2418f2"/>
<circle cx="532.8" cy="221.7" r="2.75" fill="#ee3040" fill-opacity="0.3"/>
<circle cx="531.5" cy="222.8" r="2.75" fill="#d81c2a" fill-opacity="0.8"/>
<circle cx="531.1" cy="224.8" r="2.9" fill="#2418f2"/>
<circle cx="541.1" cy="228.0" r="2.75" fill="#ee3040" fill-opacity="0.3"/>
<circle cx="542.1" cy="228.3" r="2.75" fill="#d81c2a" fill-opacity="0.8"/>
<circle cx="543.6" cy="228.8" r="2.9" fill="#2418f2"/>
<circle cx="550.4" cy="227.3" r="2.75" fill="#ee3040" fill-opacity="0.3"/>
<circle cx="548.6" cy="224.4" r="2.9" fill="#2418f2"/>
<circle cx="549.8" cy="225.9" r="2.75" fill="#d81c2a" fill-opacity="0.8"/>
<circle cx="559.4" cy="230.6" r="2.75" fill="#ee3040" fill-opacity="0.3"/>
<circle cx="559.3" cy="229.8" r="2.75" fill="#d81c2a" fill-opacity="0.8"/>
<circle cx="560.6" cy="228.6" r="2.9" fill="#2418f2"/>
<circle cx="562.4" cy="221.1" r="2.75" fill="#ee3040" fill-opacity="0.3"/>
<circle cx="564.0" cy="223.2" r="2.75" fill="#d81c2a" fill-opacity="0.8"/>
<circle cx="565.6" cy="224.5" r="2.9" fill="#2418f2"/>
<circle cx="473.8" cy="241.2" r="2.75" fill="#ee3040" fill-opacity="0.3"/>
<circle cx="474.3" cy="240.3" r="2.75" fill="#d81c2a" fill-opacity="0.8"/>
<circle cx="475.6" cy="238.4" r="2.9" fill="#2418f2"/>
<circle cx="477.9" cy="243.3" r="2.75" fill="#d81c2a" fill-opacity="0.8"/>
<circle cx="479.5" cy="242.6" r="2.9" fill="#2418f2"/>
<circle cx="490.1" cy="236.8" r="2.75" fill="#ee3040" fill-opacity="0.3"/>
<circle cx="491.2" cy="237.2" r="2.75" fill="#d81c2a" fill-opacity="0.8"/>
<circle cx="492.5" cy="239.1" r="2.9" fill="#2418f2"/>
<circle cx="498.6" cy="240.5" r="2.75" fill="#ee3040" fill-opacity="0.3"/>
<circle cx="497.4" cy="241.9" r="2.75" fill="#d81c2a" fill-opacity="0.8"/>
<circle cx="497.2" cy="243.0" r="2.9" fill="#2418f2"/>
<circle cx="508.4" cy="235.5" r="2.75" fill="#ee3040" fill-opacity="0.3"/>
<circle cx="508.9" cy="237.0" r="2.75" fill="#d81c2a" fill-opacity="0.8"/>
<circle cx="510.1" cy="238.9" r="2.9" fill="#2418f2"/>
<circle cx="513.1" cy="240.4" r="2.75" fill="#ee3040" fill-opacity="0.3"/>
<circle cx="513.5" cy="240.8" r="2.75" fill="#d81c2a" fill-opacity="0.8"/>
<circle cx="515.3" cy="242.0" r="2.9" fill="#2418f2"/>
<circle cx="526.1" cy="236.6" r="2.75" fill="#ee3040" fill-opacity="0.3"/>
<circle cx="526.1" cy="237.9" r="2.75" fill="#d81c2a" fill-opacity="0.8"/>
<circle cx="527.0" cy="239.3" r="2.9" fill="#2418f2"/>
<circle cx="529.3" cy="242.8" r="2.75" fill="#ee3040" fill-opacity="0.3"/>
<circle cx="530.5" cy="243.4" r="2.75" fill="#d81c2a" fill-opacity="0.8"/>
<circle cx="531.9" cy="242.6" r="2.9" fill="#2418f2"/>
<circle cx="544.2" cy="238.9" r="2.9" fill="#2418f2"/>
<circle cx="545.7" cy="238.0" r="2.75" fill="#d81c2a" fill-opacity="0.8"/>
<circle cx="546.6" cy="243.1" r="2.75" fill="#ee3040" fill-opacity="0.3"/>
<circle cx="547.5" cy="242.2" r="2.75" fill="#d81c2a" fill-opacity="0.8"/>
<circle cx="549.2" cy="242.0" r="2.9" fill="#2418f2"/>
<circle cx="562.6" cy="241.6" r="2.75" fill="#ee3040" fill-opacity="0.3"/>
<circle cx="561.4" cy="240.6" r="2.75" fill="#d81c2a" fill-opacity="0.8"/>
<circle cx="559.4" cy="239.3" r="2.9" fill="#2418f2"/>
<circle cx="565.5" cy="245.4" r="2.75" fill="#ee3040" fill-opacity="0.3"/>
<circle cx="565.5" cy="243.9" r="2.75" fill="#d81c2a" fill-opacity="0.8"/>
<circle cx="565.0" cy="242.8" r="2.9" fill="#2418f2"/>
<circle cx="476.4" cy="261.6" r="2.75" fill="#ee3040" fill-opacity="0.3"/>
<circle cx="474.7" cy="258.1" r="2.9" fill="#2418f2"/>
<circle cx="474.6" cy="260.6" r="2.75" fill="#d81c2a" fill-opacity="0.8"/>
<circle cx="482.5" cy="255.9" r="2.75" fill="#ee3040" fill-opacity="0.3"/>
<circle cx="481.0" cy="254.4" r="2.75" fill="#d81c2a" fill-opacity="0.8"/>
<circle cx="479.6" cy="253.7" r="2.9" fill="#2418f2"/>
<circle cx="493.8" cy="260.3" r="2.75" fill="#ee3040" fill-opacity="0.3"/>
<circle cx="493.5" cy="259.2" r="2.75" fill="#d81c2a" fill-opacity="0.8"/>
<circle cx="492.1" cy="257.5" r="2.9" fill="#2418f2"/>
<circle cx="498.4" cy="249.6" r="2.75" fill="#ee3040" fill-opacity="0.3"/>
<circle cx="497.3" cy="253.5" r="2.9" fill="#2418f2"/>
<circle cx="497.8" cy="251.1" r="2.75" fill="#d81c2a" fill-opacity="0.8"/>
<circle cx="511.5" cy="257.4" r="2.75" fill="#d81c2a" fill-opacity="0.8"/>
<circle cx="509.3" cy="257.7" r="2.9" fill="#2418f2"/>
<circle cx="513.8" cy="250.2" r="2.75" fill="#ee3040" fill-opacity="0.3"/>
<circle cx="513.4" cy="251.2" r="2.75" fill="#d81c2a" fill-opacity="0.8"/>
<circle cx="514.2" cy="253.0" r="2.9" fill="#2418f2"/>
<circle cx="530.0" cy="259.1" r="2.75" fill="#ee3040" fill-opacity="0.3"/>
<circle cx="527.0" cy="257.8" r="2.9" fill="#2418f2"/>
<circle cx="529.2" cy="258.5" r="2.75" fill="#d81c2a" fill-opacity="0.8"/>
<circle cx="532.8" cy="250.2" r="2.75" fill="#ee3040" fill-opacity="0.3"/>
<circle cx="532.0" cy="253.8" r="2.9" fill="#2418f2"/>
<circle cx="532.8" cy="251.8" r="2.75" fill="#d81c2a" fill-opacity="0.8"/>
<circle cx="541.1" cy="255.3" r="2.75" fill="#ee3040" fill-opacity="0.3"/>
<circle cx="544.1" cy="256.7" r="2.9" fill="#2418f2"/>
<circle cx="542.5" cy="255.4" r="2.75" fill="#d81c2a" fill-opacity="0.8"/>
<circle cx="546.9" cy="254.2" r="2.75" fill="#ee3040" fill-opacity="0.3"/>
<circle cx="549.6" cy="252.9" r="2.9" fill="#2418f2"/>
<circle cx="548.4" cy="253.2" r="2.75" fill="#d81c2a" fill-opacity="0.8"/>
<circle cx="561.0" cy="259.7" r="2.75" fill="#ee3040" fill-opacity="0.3"/>
<circle cx="561.1" cy="259.0" r="2.75" fill="#d81c2a" fill-opacity="0.8"/>
<circle cx="560.6" cy="257.7" r="2.9" fill="#2418f2"/>
<circle cx="563.2" cy="253.0" r="2.75" fill="#ee3040" fill-opacity="0.3"/>
<circle cx="563.6" cy="252.8" r="2.75" fill="#d81c2a" fill-opacity="0.8"/>
<circle cx="565.0" cy="253.0" r="2.9" fill="#2418f2"/>
<circle cx="473.6" cy="267.2" r="2.75" fill="#ee3040" fill-opacity="0.3"/>
<circle cx="474.1" cy="268.0" r="2.75" fill="#d81c2a" fill-opacity="0.8"/>
<circle cx="475.2" cy="268.1" r="2.9" fill="#2418f2"/>
<circle cx="479.5" cy="272.4" r="2.9" fill="#2418f2"/>
<circle cx="479.3" cy="274.6" r="2.75" fill="#d81c2a" fill-opacity="0.8"/>
<circle cx="491.9" cy="268.3" r="2.9" fill="#2418f2"/>
<circle cx="493.0" cy="268.9" r="2.75" fill="#d81c2a" fill-opacity="0.8"/>
<circle cx="499.8" cy="274.0" r="2.75" fill="#ee3040" fill-opacity="0.3"/>
<circle cx="498.5" cy="272.5" r="2.75" fill="#d81c2a" fill-opacity="0.8"/>
<circle cx="496.7" cy="271.7" r="2.9" fill="#2418f2"/>
<circle cx="506.8" cy="269.6" r="2.75" fill="#ee3040" fill-opacity="0.3"/>
<circle cx="508.4" cy="268.4" r="2.75" fill="#d81c2a" fill-opacity="0.8"/>
<circle cx="509.7" cy="268.0" r="2.9" fill="#2418f2"/>
<circle cx="511.6" cy="276.5" r="2.75" fill="#ee3040" fill-opacity="0.3"/>
<circle cx="513.4" cy="274.6" r="2.75" fill="#d81c2a" fill-opacity="0.8"/>
<circle cx="514.8" cy="272.7" r="2.9" fill="#2418f2"/>
<circle cx="525.1" cy="263.8" r="2.75" fill="#ee3040" fill-opacity="0.3"/>
<circle cx="525.8" cy="265.1" r="2.75" fill="#d81c2a" fill-opacity="0.8"/>
<circle cx="525.7" cy="267.6" r="2.9" fill="#2418f2"/>
<circle cx="529.8" cy="274.7" r="2.75" fill="#ee3040" fill-opacity="0.3"/>
<circle cx="530.2" cy="273.6" r="2.75" fill="#d81c2a" fill-opacity="0.8"/>
<circle cx="530.9" cy="272.3" r="2.9" fill="#2418f2"/>
<circle cx="546.8" cy="268.6" r="2.75" fill="#d81c2a" fill-opacity="0.8"/>
<circle cx="544.4" cy="268.0" r="2.9" fill="#2418f2"/>
<circle cx="545.8" cy="272.6" r="2.75" fill="#ee3040" fill-opacity="0.3"/>
<circle cx="547.5" cy="272.4" r="2.75" fill="#d81c2a" fill-opacity="0.8"/>
<circle cx="548.7" cy="272.0" r="2.9" fill="#2418f2"/>
<circle cx="561.0" cy="268.9" r="2.75" fill="#d81c2a" fill-opacity="0.8"/>
<circle cx="560.8" cy="267.6" r="2.9" fill="#2418f2"/>
<circle cx="562.9" cy="273.8" r="2.75" fill="#ee3040" fill-opacity="0.3"/>
<circle cx="564.1" cy="272.9" r="2.75" fill="#d81c2a" fill-opacity="0.8"/>
<circle cx="565.2" cy="272.2" r="2.9" fill="#2418f2"/>
<circle cx="477.5" cy="288.5" r="2.75" fill="#ee3040" fill-opacity="0.3"/>
<circle cx="476.1" cy="288.2" r="2.75" fill="#d81c2a" fill-opacity="0.8"/>
<circle cx="473.8" cy="287.3" r="2.9" fill="#2418f2"/>
<circle cx="478.7" cy="286.4" r="2.75" fill="#ee3040" fill-opacity="0.3"/>
<circle cx="479.8" cy="284.8" r="2.75" fill="#d81c2a" fill-opacity="0.8"/>
<circle cx="479.3" cy="283.2" r="2.9" fill="#2418f2"/>
<circle cx="495.7" cy="285.1" r="2.75" fill="#ee3040" fill-opacity="0.3"/>
<circle cx="493.2" cy="286.3" r="2.9" fill="#2418f2"/>
<circle cx="494.3" cy="286.2" r="2.75" fill="#d81c2a" fill-opacity="0.8"/>
<circle cx="495.0" cy="282.3" r="2.75" fill="#ee3040" fill-opacity="0.3"/>
<circle cx="495.8" cy="281.8" r="2.75" fill="#d81c2a" fill-opacity="0.8"/>
<circle cx="497.2" cy="282.0" r="2.9" fill="#2418f2"/>
<circle cx="511.8" cy="286.6" r="2.75" fill="#ee3040" fill-opacity="0.3"/>
<circle cx="510.7" cy="286.5" r="2.75" fill="#d81c2a" fill-opacity="0.8"/>
<circle cx="509.6" cy="285.9" r="2.9" fill="#2418f2"/>
<circle cx="513.2" cy="279.4" r="2.75" fill="#ee3040" fill-opacity="0.3"/>
<circle cx="514.5" cy="279.9" r="2.75" fill="#d81c2a" fill-opacity="0.8"/>
<circle cx="515.1" cy="282.1" r="2.9" fill="#2418f2"/>
<circle cx="527.7" cy="284.3" r="2.75" fill="#ee3040" fill-opacity="0.3"/>
<circle cx="527.4" cy="286.3" r="2.9" fill="#2418f2"/>
<circle cx="528.7" cy="284.3" r="2.75" fill="#d81c2a" fill-opacity="0.8"/>
<circle cx="531.7" cy="285.0" r="2.75" fill="#ee3040" fill-opacity="0.3"/>
<circle cx="531.5" cy="283.6" r="2.75" fill="#d81c2a" fill-opacity="0.8"/>
<circle cx="531.6" cy="282.2" r="2.9" fill="#2418f2"/>
<circle cx="544.9" cy="288.1" r="2.75" fill="#ee3040" fill-opacity="0.3"/>
<circle cx="544.9" cy="287.7" r="2.75" fill="#d81c2a" fill-opacity="0.8"/>
<circle cx="543.4" cy="286.2" r="2.9" fill="#2418f2"/>
<circle cx="550.1" cy="280.1" r="2.75" fill="#ee3040" fill-opacity="0.3"/>
<circle cx="548.9" cy="281.6" r="2.75" fill="#d81c2a" fill-opacity="0.8"/>
<circle cx="548.9" cy="282.9" r="2.9" fill="#2418f2"/>
<circle cx="561.6" cy="287.4" r="2.75" fill="#ee3040" fill-opacity="0.3"/>
<circle cx="561.9" cy="287.1" r="2.75" fill="#d81c2a" fill-opacity="0.8"/>
<circle cx="561.3" cy="286.0" r="2.9" fill="#2418f2"/>
<circle cx="566.4" cy="284.5" r="2.75" fill="#ee3040" fill-opacity="0.3"/>
<circle cx="566.2" cy="283.3" r="2.75" fill="#d81c2a" fill-opacity="0.8"/>
<circle cx="565.8" cy="282.2" r="2.9" fill="#2418f2"/>
<circle cx="577.2" cy="213.4" r="2.75" fill="#ee3040" fill-opacity="0.3"/>
<circle cx="578.0" cy="213.1" r="2.75" fill="#d81c2a" fill-opacity="0.8"/>
<circle cx="579.9" cy="213.0" r="2.9" fill="#2418f2"/>
<circle cx="584.7" cy="208.8" r="2.9" fill="#2418f2"/>
<circle cx="585.6" cy="207.7" r="2.75" fill="#d81c2a" fill-opacity="0.8"/>
<circle cx="596.5" cy="212.9" r="2.75" fill="#ee3040" fill-opacity="0.3"/>
<circle cx="597.2" cy="211.4" r="2.75" fill="#d81c2a" fill-opacity="0.8"/>
<circle cx="599.2" cy="209.9" r="2.9" fill="#2418f2"/>
<circle cx="608.0" cy="214.1" r="2.75" fill="#ee3040" fill-opacity="0.3"/>
<circle cx="606.5" cy="212.9" r="2.75" fill="#d81c2a" fill-opacity="0.8"/>
<circle cx="604.3" cy="213.2" r="2.9" fill="#2418f2"/>
<circle cx="614.6" cy="211.7" r="2.75" fill="#ee3040" fill-opacity="0.3"/>
<circle cx="616.1" cy="212.5" r="2.75" fill="#d81c2a" fill-opacity="0.8"/>
<circle cx="617.3" cy="213.7" r="2.9" fill="#2418f2"/>
<circle cx="622.1" cy="209.1" r="2.9" fill="#2418f2"/>
<circle cx="623.7" cy="211.0" r="2.75" fill="#d81c2a" fill-opacity="0.8"/>
<circle cx="637.0" cy="206.6" r="2.75" fill="#ee3040" fill-opacity="0.3"/>
<circle cx="636.4" cy="207.9" r="2.75" fill="#d81c2a" fill-opacity="0.8"/>
<circle cx="637.0" cy="209.2" r="2.9" fill="#2418f2"/>
<circle cx="638.4" cy="213.9" r="2.75" fill="#ee3040" fill-opacity="0.3"/>
<circle cx="639.0" cy="214.0" r="2.75" fill="#d81c2a" fill-opacity="0.8"/>
<circle cx="641.2" cy="213.0" r="2.9" fill="#2418f2"/>
<circle cx="652.8" cy="213.6" r="2.75" fill="#ee3040" fill-opacity="0.3"/>
<circle cx="653.7" cy="213.3" r="2.75" fill="#d81c2a" fill-opacity="0.8"/>
<circle cx="655.1" cy="213.6" r="2.9" fill="#2418f2"/>
<circle cx="658.9" cy="211.8" r="2.75" fill="#ee3040" fill-opacity="0.3"/>
<circle cx="659.6" cy="210.6" r="2.75" fill="#d81c2a" fill-opacity="0.8"/>
<circle cx="659.6" cy="209.3" r="2.9" fill="#2418f2"/>
<circle cx="671.1" cy="208.8" r="2.75" fill="#ee3040" fill-opacity="0.3"/>
<circle cx="672.3" cy="208.8" r="2.75" fill="#d81c2a" fill-opacity="0.8"/>
<circle cx="673.6" cy="210.0" r="2.9" fill="#2418f2"/>
<circle cx="677.8" cy="212.6" r="2.75" fill="#ee3040" fill-opacity="0.3"/>
<circle cx="678.2" cy="212.6" r="2.75" fill="#d81c2a" fill-opacity="0.8"/>
<circle cx="679.2" cy="213.2" r="2.9" fill="#2418f2"/>
<circle cx="581.4" cy="229.6" r="2.75" fill="#ee3040" fill-opacity="0.3"/>
<circle cx="580.4" cy="229.2" r="2.75" fill="#d81c2a" fill-opacity="0.8"/>
<circle cx="579.8" cy="228.2" r="2.9" fill="#2418f2"/>
<circle cx="586.4" cy="222.4" r="2.75" fill="#ee3040" fill-opacity="0.3"/>
<circle cx="585.5" cy="223.4" r="2.75" fill="#d81c2a" fill-opacity="0.8"/>
<circle cx="585.6" cy="224.7" r="2.9" fill="#2418f2"/>
<circle cx="600.8" cy="222.4" r="2.75" fill="#ee3040" fill-opacity="0.3"/>
<circle cx="598.7" cy="224.8" r="2.9" fill="#2418f2"/>
<circle cx="599.5" cy="223.2" r="2.75" fill="#d81c2a" fill-opacity="0.8"/>
<circle cx="604.5" cy="225.9" r="2.75" fill="#ee3040" fill-opacity="0.3"/>
<circle cx="603.5" cy="225.9" r="2.75" fill="#d81c2a" fill-opacity="0.8"/>
<circle cx="604.1" cy="228.3" r="2.9" fill="#2418f2"/>
<circle cx="617.8" cy="224.2" r="2.75" fill="#ee3040" fill-opacity="0.3"/>
<circle cx="617.9" cy="225.5" r="2.75" fill="#d81c2a" fill-opacity="0.8"/>
<circle cx="617.4" cy="227.8" r="2.9" fill="#2418f2"/>
<circle cx="622.5" cy="226.9" r="2.75" fill="#ee3040" fill-opacity="0.3"/>
<circle cx="623.0" cy="223.9" r="2.9" fill="#2418f2"/>
<circle cx="622.5" cy="225.6" r="2.75" fill="#d81c2a" fill-opacity="0.8"/>
<circle cx="638.7" cy="227.0" r="2.75" fill="#ee3040" fill-opacity="0.3"/>
<circle cx="635.9" cy="223.9" r="2.9" fill="#2418f2"/>
<circle cx="637.1" cy="225.5" r="2.75" fill="#d81c2a" fill-opacity="0.8"/>
<circle cx="642.5" cy="225.5" r="2.75" fill="#ee3040" fill-opacity="0.3"/>
<circle cx="642.2" cy="225.3" r="2.75" fill="#d81c2a" fill-opacity="0.8"/>
<circle cx="640.9" cy="227.4" r="2.9" fill="#2418f2"/>
<circle cx="652.3" cy="226.7" r="2.75" fill="#ee3040" fill-opacity="0.3"/>
<circle cx="653.4" cy="227.7" r="2.75" fill="#d81c2a" fill-opacity="0.8"/>
<circle cx="655.9" cy="228.3" r="2.9" fill="#2418f2"/>
<circle cx="658.6" cy="222.8" r="2.75" fill="#ee3040" fill-opacity="0.3"/>
<circle cx="659.5" cy="223.7" r="2.75" fill="#d81c2a" fill-opacity="0.8"/>
<circle cx="660.9" cy="224.6" r="2.9" fill="#2418f2"/>
<circle cx="677.0" cy="225.7" r="2.75" fill="#ee3040" fill-opacity="0.3"/>
<circle cx="675.8" cy="224.5" r="2.75" fill="#d81c2a" fill-opacity="0.8"/>
<circle cx="674.0" cy="224.9" r="2.9" fill="#2418f2"/>
<circle cx="681.1" cy="226.5" r="2.75" fill="#ee3040" fill-opacity="0.3"/>
<circle cx="679.8" cy="227.1" r="2.75" fill="#d81c2a" fill-opacity="0.8"/>
<circle cx="679.2" cy="228.3" r="2.9" fill="#2418f2"/>
<circle cx="582.8" cy="241.5" r="2.75" fill="#ee3040" fill-opacity="0.3"/>
<circle cx="582.4" cy="242.1" r="2.75" fill="#d81c2a" fill-opacity="0.8"/>
<circle cx="581.1" cy="243.2" r="2.9" fill="#2418f2"/>
<circle cx="587.7" cy="242.2" r="2.75" fill="#ee3040" fill-opacity="0.3"/>
<circle cx="586.7" cy="240.8" r="2.75" fill="#d81c2a" fill-opacity="0.8"/>
<circle cx="585.9" cy="238.9" r="2.9" fill="#2418f2"/>
<circle cx="601.2" cy="239.4" r="2.75" fill="#ee3040" fill-opacity="0.3"/>
<circle cx="599.7" cy="238.8" r="2.75" fill="#d81c2a" fill-opacity="0.8"/>
<circle cx="598.2" cy="238.8" r="2.9" fill="#2418f2"/>
<circle cx="601.0" cy="240.3" r="2.75" fill="#ee3040" fill-opacity="0.3"/>
<circle cx="602.2" cy="241.9" r="2.75" fill="#d81c2a" fill-opacity="0.8"/>
<circle cx="603.6" cy="242.4" r="2.9" fill="#2418f2"/>
<circle cx="619.1" cy="241.9" r="2.75" fill="#d81c2a" fill-opacity="0.8"/>
<circle cx="618.0" cy="241.0" r="2.9" fill="#2418f2"/>
<circle cx="626.2" cy="238.1" r="2.75" fill="#ee3040" fill-opacity="0.3"/>
<circle cx="625.3" cy="238.5" r="2.75" fill="#d81c2a" fill-opacity="0.8"/>
<circle cx="623.1" cy="238.3" r="2.9" fill="#2418f2"/>
<circle cx="634.5" cy="239.0" r="2.75" fill="#d81c2a" fill-opacity="0.8"/>
<circle cx="636.1" cy="238.5" r="2.9" fill="#2418f2"/>
<circle cx="641.1" cy="239.5" r="2.75" fill="#ee3040" fill-opacity="0.3"/>
<circle cx="642.0" cy="241.6" r="2.9" fill="#2418f2"/>
<circle cx="640.9" cy="240.6" r="2.75" fill="#d81c2a" fill-opacity="0.8"/>
<circle cx="652.2" cy="242.3" r="2.75" fill="#ee3040" fill-opacity="0.3"/>
<circle cx="653.1" cy="243.0" r="2.75" fill="#d81c2a" fill-opacity="0.8"/>
<circle cx="655.6" cy="243.0" r="2.9" fill="#2418f2"/>
<circle cx="661.8" cy="236.2" r="2.75" fill="#ee3040" fill-opacity="0.3"/>
<circle cx="661.4" cy="237.8" r="2.75" fill="#d81c2a" fill-opacity="0.8"/>
<circle cx="660.1" cy="239.1" r="2.9" fill="#2418f2"/>
<circle cx="672.8" cy="237.3" r="2.75" fill="#d81c2a" fill-opacity="0.8"/>
<circle cx="674.4" cy="237.6" r="2.9" fill="#2418f2"/>
<circle cx="679.5" cy="243.9" r="2.75" fill="#ee3040" fill-opacity="0.3"/>
<circle cx="678.8" cy="243.1" r="2.75" fill="#d81c2a" fill-opacity="0.8"/>
<circle cx="678.8" cy="241.7" r="2.9" fill="#2418f2"/>
<circle cx="581.4" cy="254.7" r="2.75" fill="#ee3040" fill-opacity="0.3"/>
<circle cx="580.2" cy="255.2" r="2.75" fill="#d81c2a" fill-opacity="0.8"/>
<circle cx="579.5" cy="256.4" r="2.9" fill="#2418f2"/>
<circle cx="583.7" cy="250.2" r="2.75" fill="#ee3040" fill-opacity="0.3"/>
<circle cx="584.9" cy="251.6" r="2.75" fill="#d81c2a" fill-opacity="0.8"/>
<circle cx="585.2" cy="253.3" r="2.9" fill="#2418f2"/>
<circle cx="601.1" cy="251.7" r="2.75" fill="#ee3040" fill-opacity="0.3"/>
<circle cx="599.1" cy="253.2" r="2.9" fill="#2418f2"/>
<circle cx="600.7" cy="252.0" r="2.75" fill="#d81c2a" fill-opacity="0.8"/>
<circle cx="606.6" cy="259.1" r="2.75" fill="#ee3040" fill-opacity="0.3"/>
<circle cx="605.2" cy="257.7" r="2.75" fill="#d81c2a" fill-opacity="0.8"/>
<circle cx="603.9" cy="256.4" r="2.9" fill="#2418f2"/>
<circle cx="618.5" cy="258.5" r="2.75" fill="#ee3040" fill-opacity="0.3"/>
<circle cx="618.5" cy="258.4" r="2.75" fill="#d81c2a" fill-opacity="0.8"/>
<circle cx="617.5" cy="256.3" r="2.9" fill="#2418f2"/>
<circle cx="620.0" cy="253.4" r="2.75" fill="#ee3040" fill-opacity="0.3"/>
<circle cx="620.8" cy="252.8" r="2.75" fill="#d81c2a" fill-opacity="0.8"/>
<circle cx="622.3" cy="252.8" r="2.9" fill="#2418f2"/>
<circle cx="638.8" cy="251.0" r="2.75" fill="#ee3040" fill-opacity="0.3"/>
<circle cx="638.7" cy="252.5" r="2.75" fill="#d81c2a" fill-opacity="0.8"/>
<circle cx="636.9" cy="254.1" r="2.9" fill="#2418f2"/>
<circle cx="641.1" cy="258.6" r="2.75" fill="#d81c2a" fill-opacity="0.8"/>
<circle cx="642.2" cy="257.2" r="2.9" fill="#2418f2"/>
<circle cx="653.2" cy="254.9" r="2.75" fill="#ee3040" fill-opacity="0.3"/>
<circle cx="654.6" cy="255.5" r="2.75" fill="#d81c2a" fill-opacity="0.8"/>
<circle cx="654.8" cy="257.6" r="2.9" fill="#2418f2"/>
<circle cx="658.5" cy="254.9" r="2.75" fill="#d81c2a" fill-opacity="0.8"/>
<circle cx="659.4" cy="254.1" r="2.9" fill="#2418f2"/>
<circle cx="672.0" cy="256.0" r="2.75" fill="#ee3040" fill-opacity="0.3"/>
<circle cx="674.1" cy="253.6" r="2.9" fill="#2418f2"/>
<circle cx="673.4" cy="254.6" r="2.75" fill="#d81c2a" fill-opacity="0.8"/>
<circle cx="676.6" cy="255.5" r="2.75" fill="#ee3040" fill-opacity="0.3"/>
<circle cx="678.7" cy="257.3" r="2.9" fill="#2418f2"/>
<circle cx="677.7" cy="256.6" r="2.75" fill="#d81c2a" fill-opacity="0.8"/>
<circle cx="579.7" cy="269.1" r="2.75" fill="#ee3040" fill-opacity="0.3"/>
<circle cx="581.1" cy="272.1" r="2.9" fill="#2418f2"/>
<circle cx="581.1" cy="269.8" r="2.75" fill="#d81c2a" fill-opacity="0.8"/>
<circle cx="584.7" cy="265.2" r="2.75" fill="#ee3040" fill-opacity="0.3"/>
<circle cx="584.7" cy="266.5" r="2.75" fill="#d81c2a" fill-opacity="0.8"/>
<circle cx="585.5" cy="268.5" r="2.9" fill="#2418f2"/>
<circle cx="600.3" cy="265.6" r="2.75" fill="#ee3040" fill-opacity="0.3"/>
<circle cx="599.3" cy="268.2" r="2.9" fill="#2418f2"/>
<circle cx="599.4" cy="267.0" r="2.75" fill="#d81c2a" fill-opacity="0.8"/>
<circle cx="601.8" cy="269.7" r="2.75" fill="#ee3040" fill-opacity="0.3"/>
<circle cx="603.2" cy="270.2" r="2.75" fill="#d81c2a" fill-opacity="0.8"/>
<circle cx="604.5" cy="271.6" r="2.9" fill="#2418f2"/>
<circle cx="618.3" cy="274.8" r="2.75" fill="#ee3040" fill-opacity="0.3"/>
<circle cx="618.1" cy="273.8" r="2.75" fill="#d81c2a" fill-opacity="0.8"/>
<circle cx="618.0" cy="272.3" r="2.9" fill="#2418f2"/>
<circle cx="624.5" cy="268.2" r="2.75" fill="#ee3040" fill-opacity="0.3"/>
<circle cx="622.9" cy="269.3" r="2.9" fill="#2418f2"/>
<circle cx="623.9" cy="268.4" r="2.75" fill="#d81c2a" fill-opacity="0.8"/>
<circle cx="635.9" cy="265.7" r="2.75" fill="#ee3040" fill-opacity="0.3"/>
<circle cx="636.5" cy="266.6" r="2.75" fill="#d81c2a" fill-opacity="0.8"/>
<circle cx="636.3" cy="268.9" r="2.9" fill="#2418f2"/>
<circle cx="641.5" cy="274.7" r="2.75" fill="#ee3040" fill-opacity="0.3"/>
<circle cx="641.6" cy="273.4" r="2.75" fill="#d81c2a" fill-opacity="0.8"/>
<circle cx="641.9" cy="272.0" r="2.9" fill="#2418f2"/>
<circle cx="657.6" cy="272.6" r="2.75" fill="#ee3040" fill-opacity="0.3"/>
<circle cx="656.8" cy="271.2" r="2.75" fill="#d81c2a" fill-opacity="0.8"/>
<circle cx="654.6" cy="271.3" r="2.9" fill="#2418f2"/>
<circle cx="657.7" cy="268.3" r="2.75" fill="#d81c2a" fill-opacity="0.8"/>
<circle cx="659.5" cy="268.2" r="2.9" fill="#2418f2"/>
<circle cx="673.5" cy="270.1" r="2.75" fill="#ee3040" fill-opacity="0.3"/>
<circle cx="674.1" cy="269.4" r="2.75" fill="#d81c2a" fill-opacity="0.8"/>
<circle cx="674.1" cy="268.1" r="2.9" fill="#2418f2"/>
<circle cx="677.9" cy="270.4" r="2.75" fill="#d81c2a" fill-opacity="0.8"/>
<circle cx="679.4" cy="272.1" r="2.9" fill="#2418f2"/>
<circle cx="578.4" cy="288.4" r="2.75" fill="#ee3040" fill-opacity="0.3"/>
<circle cx="579.8" cy="287.2" r="2.75" fill="#d81c2a" fill-opacity="0.8"/>
<circle cx="581.0" cy="285.7" r="2.9" fill="#2418f2"/>
<circle cx="584.7" cy="279.2" r="2.75" fill="#ee3040" fill-opacity="0.3"/>
<circle cx="584.4" cy="281.0" r="2.75" fill="#d81c2a" fill-opacity="0.8"/>
<circle cx="586.0" cy="282.7" r="2.9" fill="#2418f2"/>
<circle cx="598.9" cy="280.6" r="2.75" fill="#ee3040" fill-opacity="0.3"/>
<circle cx="598.2" cy="281.1" r="2.75" fill="#d81c2a" fill-opacity="0.8"/>
<circle cx="598.7" cy="282.4" r="2.9" fill="#2418f2"/>
<circle cx="604.0" cy="288.2" r="2.75" fill="#ee3040" fill-opacity="0.3"/>
<circle cx="604.7" cy="287.3" r="2.75" fill="#d81c2a" fill-opacity="0.8"/>
<circle cx="603.9" cy="285.3" r="2.9" fill="#2418f2"/>
<circle cx="615.0" cy="287.8" r="2.75" fill="#ee3040" fill-opacity="0.3"/>
<circle cx="616.5" cy="287.5" r="2.75" fill="#d81c2a" fill-opacity="0.8"/>
<circle cx="617.4" cy="286.0" r="2.9" fill="#2418f2"/>
<circle cx="620.5" cy="284.8" r="2.75" fill="#ee3040" fill-opacity="0.3"/>
<circle cx="621.1" cy="283.4" r="2.75" fill="#d81c2a" fill-opacity="0.8"/>
<circle cx="622.9" cy="282.7" r="2.9" fill="#2418f2"/>
<circle cx="639.7" cy="282.7" r="2.75" fill="#ee3040" fill-opacity="0.3"/>
<circle cx="639.0" cy="282.5" r="2.75" fill="#d81c2a" fill-opacity="0.8"/>
<circle cx="637.1" cy="283.0" r="2.9" fill="#2418f2"/>
<circle cx="638.9" cy="286.7" r="2.75" fill="#ee3040" fill-opacity="0.3"/>
<circle cx="641.9" cy="287.6" r="2.9" fill="#2418f2"/>
<circle cx="639.7" cy="286.5" r="2.75" fill="#d81c2a" fill-opacity="0.8"/>
<circle cx="658.0" cy="287.1" r="2.75" fill="#ee3040" fill-opacity="0.3"/>
<circle cx="657.2" cy="286.8" r="2.75" fill="#d81c2a" fill-opacity="0.8"/>
<circle cx="655.4" cy="285.7" r="2.9" fill="#2418f2"/>
<circle cx="658.4" cy="284.4" r="2.75" fill="#ee3040" fill-opacity="0.3"/>
<circle cx="660.6" cy="283.1" r="2.9" fill="#2418f2"/>
<circle cx="659.6" cy="283.9" r="2.75" fill="#d81c2a" fill-opacity="0.8"/>
<circle cx="671.2" cy="283.9" r="2.75" fill="#ee3040" fill-opacity="0.3"/>
<circle cx="672.2" cy="282.8" r="2.75" fill="#d81c2a" fill-opacity="0.8"/>
<circle cx="674.1" cy="282.6" r="2.9" fill="#2418f2"/>
<circle cx="681.3" cy="287.5" r="2.75" fill="#ee3040" fill-opacity="0.3"/>
<circle cx="680.5" cy="286.4" r="2.75" fill="#d81c2a" fill-opacity="0.8"/>
<circle cx="679.0" cy="285.6" r="2.9" fill="#2418f2"/>
<circle cx="247.8" cy="216.9" r="2.3" fill="#e0161a"/>
<circle cx="247.4" cy="220.0" r="2.3" fill="#e0161a"/>
<circle cx="253.8" cy="216.9" r="2.3" fill="#e0161a"/>
<circle cx="252.9" cy="221.7" r="2.3" fill="#e0161a"/>
<circle cx="261.8" cy="215.6" r="2.3" fill="#e0161a"/>
<circle cx="264.8" cy="213.5" r="2.3" fill="#e0161a"/>
<circle cx="263.2" cy="219.0" r="2.3" fill="#e0161a"/>
<circle cx="262.1" cy="222.4" r="2.3" fill="#e0161a"/>
<circle cx="264.2" cy="223.8" r="2.3" fill="#e0161a"/>
<circle cx="272.0" cy="211.2" r="2.3" fill="#e0161a"/>
<circle cx="273.8" cy="212.8" r="2.3" fill="#e0161a"/>
<circle cx="270.7" cy="218.0" r="2.3" fill="#e0161a"/>
<circle cx="276.1" cy="220.1" r="2.3" fill="#e0161a"/>
<circle cx="276.8" cy="223.1" r="2.3" fill="#e0161a"/>
<circle cx="277.9" cy="225.4" r="2.3" fill="#e0161a"/>
<circle cx="284.0" cy="212.8" r="2.3" fill="#e0161a"/>
<circle cx="285.7" cy="216.3" r="2.3" fill="#e0161a"/>
<circle cx="284.8" cy="219.0" r="2.3" fill="#e0161a"/>
<circle cx="288.5" cy="221.0" r="2.3" fill="#e0161a"/>
<circle cx="291.6" cy="215.8" r="2.3" fill="#e0161a"/>
<circle cx="251.5" cy="226.5" r="2.3" fill="#e0161a"/>
<circle cx="254.7" cy="227.9" r="2.3" fill="#e0161a"/>
<circle cx="257.4" cy="229.5" r="2.3" fill="#e0161a"/>
<circle cx="260.4" cy="231.7" r="2.3" fill="#e0161a"/>
<circle cx="258.8" cy="234.7" r="2.3" fill="#e0161a"/>
<circle cx="258.0" cy="238.6" r="2.3" fill="#e0161a"/>
<circle cx="267.0" cy="232.0" r="2.3" fill="#e0161a"/>
<circle cx="270.7" cy="230.4" r="2.3" fill="#e0161a"/>
<circle cx="271.1" cy="233.4" r="2.3" fill="#e0161a"/>
<circle cx="269.7" cy="235.4" r="2.3" fill="#e0161a"/>
<circle cx="275.7" cy="228.6" r="2.3" fill="#e0161a"/>
<circle cx="283.7" cy="226.5" r="2.3" fill="#e0161a"/>
<circle cx="286.4" cy="229.3" r="2.3" fill="#e0161a"/>
<circle cx="288.0" cy="230.6" r="2.3" fill="#e0161a"/>
<circle cx="293.5" cy="226.5" r="2.3" fill="#e0161a"/>
<circle cx="293.2" cy="230.6" r="2.3" fill="#e0161a"/>
<circle cx="293.9" cy="234.7" r="2.3" fill="#e0161a"/>
<circle cx="283.7" cy="235.0" r="2.3" fill="#e0161a"/>
<circle cx="287.1" cy="238.6" r="2.3" fill="#e0161a"/>
<circle cx="289.1" cy="241.6" r="2.3" fill="#e0161a"/>
<circle cx="277.5" cy="237.2" r="2.3" fill="#e0161a"/>
<circle cx="274.4" cy="241.3" r="2.3" fill="#e0161a"/>
<circle cx="282.0" cy="240.9" r="2.3" fill="#e0161a"/>
<circle cx="265.2" cy="237.7" r="2.3" fill="#e0161a"/>
<circle cx="265.6" cy="241.8" r="2.3" fill="#e0161a"/>
<circle cx="251.9" cy="239.5" r="2.3" fill="#e0161a"/>
<circle cx="252.9" cy="243.6" r="2.3" fill="#e0161a"/>
<circle cx="298.2" cy="211.5" r="2.3" fill="#e0161a"/>
<circle cx="295.0" cy="216.3" r="2.3" fill="#e0161a"/>
<circle cx="298.2" cy="218.0" r="2.3" fill="#e0161a"/>
<circle cx="305.7" cy="215.3" r="2.3" fill="#e0161a"/>
<circle cx="310.2" cy="212.2" r="2.3" fill="#e0161a"/>
<circle cx="313.2" cy="216.3" r="2.3" fill="#e0161a"/>
<circle cx="319.4" cy="219.0" r="2.3" fill="#e0161a"/>
<circle cx="324.6" cy="217.6" r="2.3" fill="#e0161a"/>
<circle cx="328.7" cy="218.0" r="2.3" fill="#e0161a"/>
<circle cx="333.0" cy="211.2" r="2.3" fill="#e0161a"/>
<circle cx="332.8" cy="213.1" r="2.3" fill="#e0161a"/>
<circle cx="300.5" cy="224.5" r="2.3" fill="#e0161a"/>
<circle cx="299.5" cy="227.9" r="2.3" fill="#e0161a"/>
<circle cx="298.8" cy="231.7" r="2.3" fill="#e0161a"/>
<circle cx="307.7" cy="222.4" r="2.3" fill="#e0161a"/>
<circle cx="307.7" cy="227.2" r="2.3" fill="#e0161a"/>
<circle cx="309.1" cy="230.9" r="2.3" fill="#e0161a"/>
<circle cx="313.2" cy="223.1" r="2.3" fill="#e0161a"/>
<circle cx="316.9" cy="224.9" r="2.3" fill="#e0161a"/>
<circle cx="317.7" cy="227.9" r="2.3" fill="#e0161a"/>
<circle cx="325.5" cy="223.5" r="2.3" fill="#e0161a"/>
<circle cx="327.8" cy="221.3" r="2.3" fill="#e0161a"/>
<circle cx="328.9" cy="224.9" r="2.3" fill="#e0161a"/>
<circle cx="332.0" cy="223.8" r="2.3" fill="#e0161a"/>
<circle cx="339.2" cy="222.7" r="2.3" fill="#e0161a"/>
<circle cx="334.4" cy="228.6" r="2.3" fill="#e0161a"/>
<circle cx="339.9" cy="230.4" r="2.3" fill="#e0161a"/>
<circle cx="328.3" cy="230.9" r="2.3" fill="#e0161a"/>
<circle cx="324.1" cy="232.3" r="2.3" fill="#e0161a"/>
<circle cx="320.7" cy="233.4" r="2.3" fill="#e0161a"/>
<circle cx="317.3" cy="234.7" r="2.3" fill="#e0161a"/>
<circle cx="308.1" cy="235.4" r="2.3" fill="#e0161a"/>
<circle cx="304.3" cy="238.6" r="2.3" fill="#e0161a"/>
<circle cx="297.7" cy="237.7" r="2.3" fill="#e0161a"/>
<circle cx="299.5" cy="241.8" r="2.3" fill="#e0161a"/>
<circle cx="302.7" cy="244.0" r="2.3" fill="#e0161a"/>
<circle cx="311.2" cy="243.2" r="2.3" fill="#e0161a"/>
<circle cx="314.2" cy="241.6" r="2.3" fill="#e0161a"/>
<circle cx="320.7" cy="239.5" r="2.3" fill="#e0161a"/>
<circle cx="319.1" cy="243.6" r="2.3" fill="#e0161a"/>
<circle cx="328.9" cy="238.6" r="2.3" fill="#e0161a"/>
<circle cx="331.7" cy="241.8" r="2.3" fill="#e0161a"/>
<circle cx="334.7" cy="243.6" r="2.3" fill="#e0161a"/>
<circle cx="337.1" cy="237.7" r="2.3" fill="#e0161a"/>
<circle cx="339.6" cy="235.4" r="2.3" fill="#e0161a"/>
<circle cx="328.9" cy="244.0" r="2.3" fill="#e0161a"/>
<circle cx="251.5" cy="246.7" r="2.3" fill="#e0161a"/>
<circle cx="257.9" cy="246.7" r="2.3" fill="#e0161a"/>
<circle cx="262.8" cy="247.3" r="2.3" fill="#e0161a"/>
<circle cx="260.9" cy="250.8" r="2.3" fill="#e0161a"/>
<circle cx="265.1" cy="245.0" r="2.3" fill="#e0161a"/>
<circle cx="274.9" cy="245.8" r="2.3" fill="#e0161a"/>
<circle cx="278.4" cy="245.8" r="2.3" fill="#e0161a"/>
<circle cx="247.3" cy="251.5" r="2.3" fill="#e0161a"/>
<circle cx="249.3" cy="252.7" r="2.3" fill="#e0161a"/>
<circle cx="257.3" cy="254.2" r="2.3" fill="#e0161a"/>
<circle cx="256.1" cy="257.3" r="2.3" fill="#e0161a"/>
<circle cx="268.1" cy="255.8" r="2.3" fill="#e0161a"/>
<circle cx="271.1" cy="254.9" r="2.3" fill="#e0161a"/>
<circle cx="270.4" cy="258.3" r="2.3" fill="#e0161a"/>
<circle cx="276.4" cy="253.8" r="2.3" fill="#e0161a"/>
<circle cx="279.9" cy="254.2" r="2.3" fill="#e0161a"/>
<circle cx="284.4" cy="254.6" r="2.3" fill="#e0161a"/>
<circle cx="287.7" cy="253.0" r="2.3" fill="#e0161a"/>
<circle cx="290.7" cy="250.0" r="2.3" fill="#e0161a"/>
<circle cx="292.2" cy="248.8" r="2.3" fill="#e0161a"/>
<circle cx="282.9" cy="259.1" r="2.3" fill="#e0161a"/>
<circle cx="288.9" cy="260.3" r="2.3" fill="#e0161a"/>
<circle cx="289.2" cy="262.8" r="2.3" fill="#e0161a"/>
<circle cx="247.8" cy="262.4" r="2.3" fill="#e0161a"/>
<circle cx="249.7" cy="261.3" r="2.3" fill="#e0161a"/>
<circle cx="257.3" cy="263.3" r="2.3" fill="#e0161a"/>
<circle cx="259.1" cy="262.1" r="2.3" fill="#e0161a"/>
<circle cx="262.8" cy="260.9" r="2.3" fill="#e0161a"/>
<circle cx="268.4" cy="263.3" r="2.3" fill="#e0161a"/>
<circle cx="276.0" cy="263.3" r="2.3" fill="#e0161a"/>
<circle cx="262.8" cy="266.6" r="2.3" fill="#e0161a"/>
<circle cx="271.1" cy="267.8" r="2.3" fill="#e0161a"/>
<circle cx="279.9" cy="266.9" r="2.3" fill="#e0161a"/>
<circle cx="283.5" cy="268.4" r="2.3" fill="#e0161a"/>
<circle cx="280.9" cy="271.1" r="2.3" fill="#e0161a"/>
<circle cx="280.5" cy="273.4" r="2.3" fill="#e0161a"/>
<circle cx="291.0" cy="266.9" r="2.3" fill="#e0161a"/>
<circle cx="289.2" cy="272.9" r="2.3" fill="#e0161a"/>
<circle cx="291.9" cy="273.4" r="2.3" fill="#e0161a"/>
<circle cx="252.7" cy="268.9" r="2.3" fill="#e0161a"/>
<circle cx="256.1" cy="269.9" r="2.3" fill="#e0161a"/>
<circle cx="248.8" cy="271.9" r="2.3" fill="#e0161a"/>
<circle cx="266.3" cy="270.4" r="2.3" fill="#e0161a"/>
<circle cx="266.3" cy="274.1" r="2.3" fill="#e0161a"/>
<circle cx="269.3" cy="276.0" r="2.3" fill="#e0161a"/>
<circle cx="254.9" cy="276.4" r="2.3" fill="#e0161a"/>
<circle cx="258.3" cy="276.4" r="2.3" fill="#e0161a"/>
<circle cx="261.3" cy="276.4" r="2.3" fill="#e0161a"/>
<circle cx="275.7" cy="276.9" r="2.3" fill="#e0161a"/>
<circle cx="271.9" cy="279.0" r="2.3" fill="#e0161a"/>
<circle cx="247.3" cy="279.4" r="2.3" fill="#e0161a"/>
<circle cx="254.2" cy="280.9" r="2.3" fill="#e0161a"/>
<circle cx="260.9" cy="280.9" r="2.3" fill="#e0161a"/>
<circle cx="249.7" cy="283.5" r="2.3" fill="#e0161a"/>
<circle cx="262.8" cy="283.5" r="2.3" fill="#e0161a"/>
<circle cx="281.4" cy="282.4" r="2.3" fill="#e0161a"/>
<circle cx="284.4" cy="280.5" r="2.3" fill="#e0161a"/>
<circle cx="287.7" cy="277.9" r="2.3" fill="#e0161a"/>
<circle cx="283.9" cy="283.2" r="2.3" fill="#e0161a"/>
<circle cx="316.9" cy="246.7" r="2.3" fill="#e0161a"/>
<circle cx="329.4" cy="245.2" r="2.3" fill="#e0161a"/>
<circle cx="298.3" cy="248.8" r="2.3" fill="#e0161a"/>
<circle cx="306.8" cy="249.7" r="2.3" fill="#e0161a"/>
<circle cx="311.9" cy="251.8" r="2.3" fill="#e0161a"/>
<circle cx="319.9" cy="250.8" r="2.3" fill="#e0161a"/>
<circle cx="325.2" cy="250.8" r="2.3" fill="#e0161a"/>
<circle cx="327.9" cy="251.5" r="2.3" fill="#e0161a"/>
<circle cx="335.4" cy="249.7" r="2.3" fill="#e0161a"/>
<circle cx="338.7" cy="250.8" r="2.3" fill="#e0161a"/>
<circle cx="297.3" cy="254.9" r="2.3" fill="#e0161a"/>
<circle cx="301.3" cy="252.7" r="2.3" fill="#e0161a"/>
<circle cx="299.5" cy="257.3" r="2.3" fill="#e0161a"/>
<circle cx="307.8" cy="256.4" r="2.3" fill="#e0161a"/>
<circle cx="309.8" cy="258.8" r="2.3" fill="#e0161a"/>
<circle cx="316.9" cy="254.9" r="2.3" fill="#e0161a"/>
<circle cx="322.1" cy="257.3" r="2.3" fill="#e0161a"/>
<circle cx="324.9" cy="259.4" r="2.3" fill="#e0161a"/>
<circle cx="311.3" cy="261.8" r="2.3" fill="#e0161a"/>
<circle cx="317.9" cy="260.3" r="2.3" fill="#e0161a"/>
<circle cx="334.5" cy="257.9" r="2.3" fill="#e0161a"/>
<circle cx="337.5" cy="257.3" r="2.3" fill="#e0161a"/>
<circle cx="333.9" cy="261.3" r="2.3" fill="#e0161a"/>
<circle cx="297.3" cy="264.8" r="2.3" fill="#e0161a"/>
<circle cx="300.3" cy="263.9" r="2.3" fill="#e0161a"/>
<circle cx="301.3" cy="265.1" r="2.3" fill="#e0161a"/>
<circle cx="308.3" cy="265.1" r="2.3" fill="#e0161a"/>
<circle cx="324.4" cy="265.1" r="2.3" fill="#e0161a"/>
<circle cx="326.4" cy="265.9" r="2.3" fill="#e0161a"/>
<circle cx="330.9" cy="267.4" r="2.3" fill="#e0161a"/>
<circle cx="333.9" cy="267.8" r="2.3" fill="#e0161a"/>
<circle cx="314.6" cy="268.9" r="2.3" fill="#e0161a"/>
<circle cx="313.9" cy="271.1" r="2.3" fill="#e0161a"/>
<circle cx="298.0" cy="269.3" r="2.3" fill="#e0161a"/>
<circle cx="320.9" cy="271.9" r="2.3" fill="#e0161a"/>
<circle cx="325.5" cy="272.3" r="2.3" fill="#e0161a"/>
<circle cx="339.9" cy="270.4" r="2.3" fill="#e0161a"/>
<circle cx="297.3" cy="275.6" r="2.3" fill="#e0161a"/>
<circle cx="301.8" cy="274.9" r="2.3" fill="#e0161a"/>
<circle cx="305.3" cy="273.8" r="2.3" fill="#e0161a"/>
<circle cx="310.8" cy="275.6" r="2.3" fill="#e0161a"/>
<circle cx="339.0" cy="276.4" r="2.3" fill="#e0161a"/>
<circle cx="301.0" cy="279.9" r="2.3" fill="#e0161a"/>
<circle cx="307.8" cy="279.0" r="2.3" fill="#e0161a"/>
<circle cx="314.6" cy="279.9" r="2.3" fill="#e0161a"/>
<circle cx="318.8" cy="280.9" r="2.3" fill="#e0161a"/>
<circle cx="325.2" cy="279.9" r="2.3" fill="#e0161a"/>
<circle cx="330.9" cy="279.0" r="2.3" fill="#e0161a"/>
<circle cx="331.5" cy="281.7" r="2.3" fill="#e0161a"/>
<circle cx="305.3" cy="283.5" r="2.3" fill="#e0161a"/>
<circle cx="317.3" cy="283.9" r="2.3" fill="#e0161a"/>
<circle cx="338.7" cy="282.4" r="2.3" fill="#e0161a"/>
<circle cx="356.8" cy="211.7" r="2.35" fill="#1c12f0"/>
<circle cx="355.2" cy="217.2" r="2.35" fill="#1c12f0"/>
<circle cx="360.9" cy="216.3" r="2.35" fill="#1c12f0"/>
<circle cx="368.5" cy="211.7" r="2.35" fill="#1c12f0"/>
<circle cx="370.2" cy="214.9" r="2.35" fill="#1c12f0"/>
<circle cx="367.8" cy="218.6" r="2.35" fill="#1c12f0"/>
<circle cx="371.9" cy="219.4" r="2.35" fill="#1c12f0"/>
<circle cx="374.4" cy="217.6" r="2.35" fill="#1c12f0"/>
<circle cx="381.5" cy="213.5" r="2.35" fill="#1c12f0"/>
<circle cx="390.8" cy="212.6" r="2.35" fill="#1c12f0"/>
<circle cx="391.3" cy="216.3" r="2.35" fill="#1c12f0"/>
<circle cx="393.5" cy="219.7" r="2.35" fill="#1c12f0"/>
<circle cx="396.5" cy="217.6" r="2.35" fill="#1c12f0"/>
<circle cx="353.0" cy="223.1" r="2.35" fill="#1c12f0"/>
<circle cx="358.5" cy="223.1" r="2.35" fill="#1c12f0"/>
<circle cx="359.3" cy="226.8" r="2.35" fill="#1c12f0"/>
<circle cx="367.1" cy="223.5" r="2.35" fill="#1c12f0"/>
<circle cx="370.8" cy="224.9" r="2.35" fill="#1c12f0"/>
<circle cx="380.8" cy="222.1" r="2.35" fill="#1c12f0"/>
<circle cx="382.8" cy="224.5" r="2.35" fill="#1c12f0"/>
<circle cx="389.4" cy="225.8" r="2.35" fill="#1c12f0"/>
<circle cx="353.0" cy="229.9" r="2.35" fill="#1c12f0"/>
<circle cx="360.3" cy="229.5" r="2.35" fill="#1c12f0"/>
<circle cx="364.4" cy="230.4" r="2.35" fill="#1c12f0"/>
<circle cx="371.9" cy="231.7" r="2.35" fill="#1c12f0"/>
<circle cx="381.2" cy="228.6" r="2.35" fill="#1c12f0"/>
<circle cx="390.4" cy="229.5" r="2.35" fill="#1c12f0"/>
<circle cx="392.7" cy="230.4" r="2.35" fill="#1c12f0"/>
<circle cx="397.2" cy="227.6" r="2.35" fill="#1c12f0"/>
<circle cx="366.1" cy="234.0" r="2.35" fill="#1c12f0"/>
<circle cx="376.7" cy="233.1" r="2.35" fill="#1c12f0"/>
<circle cx="378.7" cy="235.8" r="2.35" fill="#1c12f0"/>
<circle cx="397.2" cy="235.0" r="2.35" fill="#1c12f0"/>
<circle cx="362.0" cy="239.1" r="2.35" fill="#1c12f0"/>
<circle cx="370.2" cy="238.6" r="2.35" fill="#1c12f0"/>
<circle cx="371.2" cy="241.3" r="2.35" fill="#1c12f0"/>
<circle cx="356.8" cy="242.3" r="2.35" fill="#1c12f0"/>
<circle cx="359.3" cy="241.3" r="2.35" fill="#1c12f0"/>
<circle cx="383.9" cy="239.5" r="2.35" fill="#1c12f0"/>
<circle cx="386.9" cy="240.9" r="2.35" fill="#1c12f0"/>
<circle cx="390.8" cy="239.5" r="2.35" fill="#1c12f0"/>
<circle cx="394.0" cy="240.5" r="2.35" fill="#1c12f0"/>
<circle cx="394.9" cy="242.9" r="2.35" fill="#1c12f0"/>
<circle cx="379.8" cy="243.2" r="2.35" fill="#1c12f0"/>
<circle cx="402.8" cy="214.5" r="2.35" fill="#1c12f0"/>
<circle cx="404.2" cy="217.2" r="2.35" fill="#1c12f0"/>
<circle cx="410.6" cy="212.8" r="2.35" fill="#1c12f0"/>
<circle cx="411.4" cy="216.7" r="2.35" fill="#1c12f0"/>
<circle cx="417.2" cy="213.1" r="2.35" fill="#1c12f0"/>
<circle cx="421.9" cy="215.3" r="2.35" fill="#1c12f0"/>
<circle cx="418.8" cy="219.0" r="2.35" fill="#1c12f0"/>
<circle cx="429.2" cy="218.6" r="2.35" fill="#1c12f0"/>
<circle cx="434.3" cy="219.0" r="2.35" fill="#1c12f0"/>
<circle cx="438.8" cy="214.9" r="2.35" fill="#1c12f0"/>
<circle cx="441.1" cy="216.3" r="2.35" fill="#1c12f0"/>
<circle cx="444.5" cy="222.1" r="2.35" fill="#1c12f0"/>
<circle cx="426.0" cy="222.7" r="2.35" fill="#1c12f0"/>
<circle cx="433.3" cy="223.5" r="2.35" fill="#1c12f0"/>
<circle cx="437.7" cy="224.9" r="2.35" fill="#1c12f0"/>
<circle cx="405.5" cy="225.8" r="2.35" fill="#1c12f0"/>
<circle cx="402.1" cy="227.2" r="2.35" fill="#1c12f0"/>
<circle cx="413.7" cy="223.5" r="2.35" fill="#1c12f0"/>
<circle cx="412.4" cy="227.6" r="2.35" fill="#1c12f0"/>
<circle cx="418.5" cy="226.8" r="2.35" fill="#1c12f0"/>
<circle cx="422.4" cy="226.2" r="2.35" fill="#1c12f0"/>
<circle cx="424.7" cy="229.5" r="2.35" fill="#1c12f0"/>
<circle cx="432.9" cy="227.9" r="2.35" fill="#1c12f0"/>
<circle cx="435.2" cy="226.2" r="2.35" fill="#1c12f0"/>
<circle cx="441.1" cy="230.0" r="2.35" fill="#1c12f0"/>
<circle cx="415.1" cy="231.7" r="2.35" fill="#1c12f0"/>
<circle cx="402.8" cy="231.3" r="2.35" fill="#1c12f0"/>
<circle cx="403.2" cy="235.8" r="2.35" fill="#1c12f0"/>
<circle cx="413.0" cy="235.8" r="2.35" fill="#1c12f0"/>
<circle cx="425.1" cy="236.8" r="2.35" fill="#1c12f0"/>
<circle cx="428.4" cy="235.8" r="2.35" fill="#1c12f0"/>
<circle cx="433.3" cy="234.0" r="2.35" fill="#1c12f0"/>
<circle cx="432.9" cy="238.8" r="2.35" fill="#1c12f0"/>
<circle cx="445.2" cy="235.0" r="2.35" fill="#1c12f0"/>
<circle cx="440.7" cy="238.6" r="2.35" fill="#1c12f0"/>
<circle cx="412.8" cy="239.9" r="2.35" fill="#1c12f0"/>
<circle cx="414.4" cy="241.8" r="2.35" fill="#1c12f0"/>
<circle cx="404.6" cy="241.8" r="2.35" fill="#1c12f0"/>
<circle cx="407.3" cy="242.7" r="2.35" fill="#1c12f0"/>
<circle cx="418.8" cy="242.7" r="2.35" fill="#1c12f0"/>
<circle cx="425.4" cy="243.2" r="2.35" fill="#1c12f0"/>
<circle cx="439.0" cy="242.7" r="2.35" fill="#1c12f0"/>
<circle cx="357.1" cy="246.8" r="2.35" fill="#1c12f0"/>
<circle cx="355.5" cy="250.0" r="2.35" fill="#1c12f0"/>
<circle cx="363.4" cy="246.4" r="2.35" fill="#1c12f0"/>
<circle cx="372.1" cy="245.6" r="2.35" fill="#1c12f0"/>
<circle cx="369.7" cy="248.7" r="2.35" fill="#1c12f0"/>
<circle cx="379.9" cy="245.6" r="2.35" fill="#1c12f0"/>
<circle cx="382.3" cy="246.4" r="2.35" fill="#1c12f0"/>
<circle cx="357.1" cy="254.7" r="2.35" fill="#1c12f0"/>
<circle cx="364.5" cy="251.6" r="2.35" fill="#1c12f0"/>
<circle cx="363.9" cy="254.7" r="2.35" fill="#1c12f0"/>
<circle cx="372.8" cy="253.8" r="2.35" fill="#1c12f0"/>
<circle cx="375.2" cy="255.3" r="2.35" fill="#1c12f0"/>
<circle cx="378.4" cy="256.3" r="2.35" fill="#1c12f0"/>
<circle cx="382.3" cy="253.1" r="2.35" fill="#1c12f0"/>
<circle cx="386.2" cy="252.7" r="2.35" fill="#1c12f0"/>
<circle cx="392.2" cy="253.1" r="2.35" fill="#1c12f0"/>
<circle cx="395.7" cy="250.3" r="2.35" fill="#1c12f0"/>
<circle cx="398.5" cy="249.5" r="2.35" fill="#1c12f0"/>
<circle cx="389.4" cy="257.4" r="2.35" fill="#1c12f0"/>
<circle cx="392.5" cy="258.5" r="2.35" fill="#1c12f0"/>
<circle cx="396.5" cy="261.0" r="2.35" fill="#1c12f0"/>
<circle cx="360.7" cy="259.0" r="2.35" fill="#1c12f0"/>
<circle cx="364.5" cy="259.8" r="2.35" fill="#1c12f0"/>
<circle cx="376.8" cy="259.0" r="2.35" fill="#1c12f0"/>
<circle cx="353.5" cy="262.6" r="2.35" fill="#1c12f0"/>
<circle cx="353.9" cy="265.3" r="2.35" fill="#1c12f0"/>
<circle cx="365.4" cy="263.7" r="2.35" fill="#1c12f0"/>
<circle cx="368.6" cy="263.2" r="2.35" fill="#1c12f0"/>
<circle cx="374.0" cy="263.7" r="2.35" fill="#1c12f0"/>
<circle cx="381.2" cy="261.6" r="2.35" fill="#1c12f0"/>
<circle cx="369.2" cy="267.6" r="2.35" fill="#1c12f0"/>
<circle cx="371.3" cy="270.0" r="2.35" fill="#1c12f0"/>
<circle cx="357.6" cy="268.9" r="2.35" fill="#1c12f0"/>
<circle cx="361.0" cy="268.9" r="2.35" fill="#1c12f0"/>
<circle cx="354.7" cy="272.4" r="2.35" fill="#1c12f0"/>
<circle cx="379.6" cy="268.9" r="2.35" fill="#1c12f0"/>
<circle cx="385.9" cy="267.3" r="2.35" fill="#1c12f0"/>
<circle cx="386.6" cy="271.1" r="2.35" fill="#1c12f0"/>
<circle cx="392.2" cy="267.6" r="2.35" fill="#1c12f0"/>
<circle cx="397.3" cy="267.6" r="2.35" fill="#1c12f0"/>
<circle cx="362.6" cy="275.2" r="2.35" fill="#1c12f0"/>
<circle cx="365.4" cy="274.7" r="2.35" fill="#1c12f0"/>
<circle cx="365.8" cy="279.5" r="2.35" fill="#1c12f0"/>
<circle cx="372.1" cy="274.7" r="2.35" fill="#1c12f0"/>
<circle cx="377.1" cy="273.9" r="2.35" fill="#1c12f0"/>
<circle cx="376.5" cy="279.5" r="2.35" fill="#1c12f0"/>
<circle cx="379.2" cy="280.6" r="2.35" fill="#1c12f0"/>
<circle cx="382.3" cy="278.4" r="2.35" fill="#1c12f0"/>
<circle cx="380.3" cy="284.7" r="2.35" fill="#1c12f0"/>
<circle cx="386.2" cy="281.8" r="2.35" fill="#1c12f0"/>
<circle cx="390.2" cy="280.6" r="2.35" fill="#1c12f0"/>
<circle cx="392.5" cy="273.9" r="2.35" fill="#1c12f0"/>
<circle cx="395.7" cy="278.4" r="2.35" fill="#1c12f0"/>
<circle cx="353.5" cy="279.9" r="2.35" fill="#1c12f0"/>
<circle cx="357.1" cy="279.5" r="2.35" fill="#1c12f0"/>
<circle cx="417.7" cy="245.3" r="2.35" fill="#1c12f0"/>
<circle cx="424.8" cy="245.3" r="2.35" fill="#1c12f0"/>
<circle cx="405.1" cy="250.0" r="2.35" fill="#1c12f0"/>
<circle cx="404.0" cy="255.0" r="2.35" fill="#1c12f0"/>
<circle cx="412.5" cy="251.1" r="2.35" fill="#1c12f0"/>
<circle cx="414.5" cy="253.1" r="2.35" fill="#1c12f0"/>
<circle cx="424.0" cy="250.6" r="2.35" fill="#1c12f0"/>
<circle cx="432.4" cy="251.6" r="2.35" fill="#1c12f0"/>
<circle cx="436.6" cy="247.9" r="2.35" fill="#1c12f0"/>
<circle cx="439.3" cy="245.9" r="2.35" fill="#1c12f0"/>
<circle cx="441.3" cy="250.6" r="2.35" fill="#1c12f0"/>
<circle cx="431.9" cy="254.7" r="2.35" fill="#1c12f0"/>
<circle cx="442.9" cy="256.6" r="2.35" fill="#1c12f0"/>
<circle cx="413.4" cy="259.0" r="2.35" fill="#1c12f0"/>
<circle cx="418.2" cy="256.9" r="2.35" fill="#1c12f0"/>
<circle cx="423.5" cy="259.4" r="2.35" fill="#1c12f0"/>
<circle cx="427.9" cy="259.8" r="2.35" fill="#1c12f0"/>
<circle cx="417.7" cy="262.6" r="2.35" fill="#1c12f0"/>
<circle cx="429.5" cy="263.2" r="2.35" fill="#1c12f0"/>
<circle cx="438.2" cy="262.1" r="2.35" fill="#1c12f0"/>
<circle cx="440.5" cy="261.0" r="2.35" fill="#1c12f0"/>
<circle cx="404.3" cy="264.5" r="2.35" fill="#1c12f0"/>
<circle cx="407.8" cy="263.7" r="2.35" fill="#1c12f0"/>
<circle cx="406.7" cy="268.4" r="2.35" fill="#1c12f0"/>
<circle cx="413.4" cy="267.6" r="2.35" fill="#1c12f0"/>
<circle cx="430.3" cy="267.6" r="2.35" fill="#1c12f0"/>
<circle cx="435.8" cy="269.5" r="2.35" fill="#1c12f0"/>
<circle cx="439.3" cy="269.5" r="2.35" fill="#1c12f0"/>
<circle cx="445.0" cy="268.9" r="2.35" fill="#1c12f0"/>
<circle cx="401.2" cy="272.4" r="2.35" fill="#1c12f0"/>
<circle cx="408.2" cy="273.6" r="2.35" fill="#1c12f0"/>
<circle cx="419.3" cy="271.1" r="2.35" fill="#1c12f0"/>
<circle cx="421.6" cy="273.9" r="2.35" fill="#1c12f0"/>
<circle cx="433.5" cy="272.0" r="2.35" fill="#1c12f0"/>
<circle cx="405.6" cy="276.3" r="2.35" fill="#1c12f0"/>
<circle cx="414.5" cy="278.4" r="2.35" fill="#1c12f0"/>
<circle cx="418.2" cy="276.8" r="2.35" fill="#1c12f0"/>
<circle cx="428.7" cy="277.1" r="2.35" fill="#1c12f0"/>
<circle cx="432.4" cy="275.8" r="2.35" fill="#1c12f0"/>
<circle cx="441.8" cy="277.9" r="2.35" fill="#1c12f0"/>
<circle cx="409.8" cy="281.8" r="2.35" fill="#1c12f0"/>
<circle cx="422.4" cy="281.0" r="2.35" fill="#1c12f0"/>
<circle cx="430.3" cy="281.8" r="2.35" fill="#1c12f0"/>
<circle cx="437.4" cy="280.6" r="2.35" fill="#1c12f0"/>
<circle cx="400.4" cy="284.2" r="2.35" fill="#1c12f0"/>
<circle cx="425.1" cy="284.7" r="2.35" fill="#1c12f0"/>
<circle cx="438.7" cy="283.7" r="2.35" fill="#1c12f0"/>
<circle cx="444.0" cy="285.0" r="2.35" fill="#1c12f0"/>
</svg></body></html>
